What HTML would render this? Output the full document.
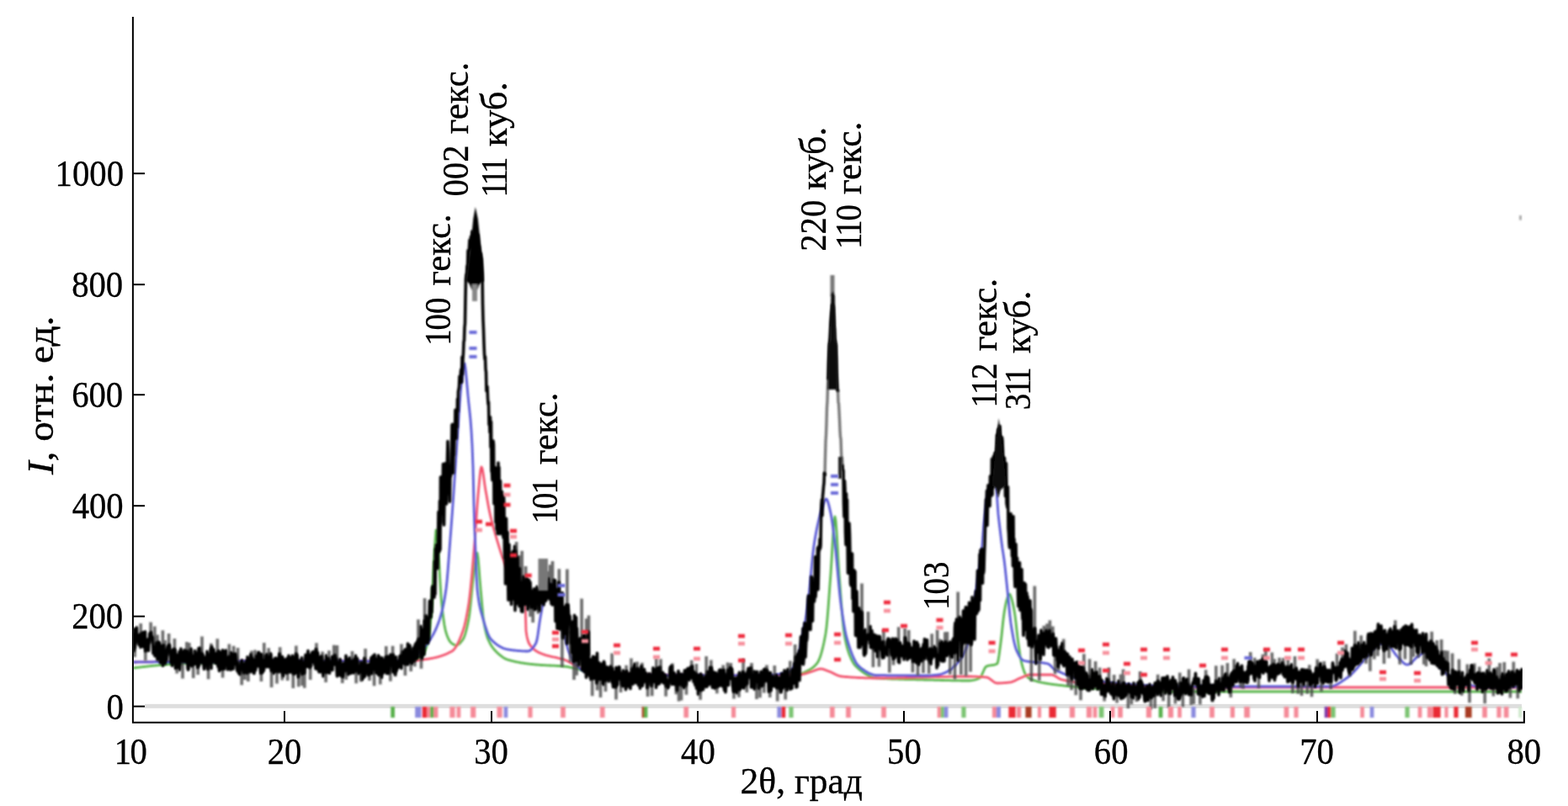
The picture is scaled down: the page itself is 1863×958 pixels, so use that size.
<!DOCTYPE html>
<html lang="ru"><head><meta charset="utf-8"><title>XRD</title>
<style>html,body{margin:0;padding:0;background:#fff;overflow:hidden}svg{display:block}</style></head>
<body><svg width="1863" height="958" viewBox="0 0 1863 958">
<rect width="1863" height="958" fill="#fff"/>
<rect x="172" y="836.8" width="1636" height="5" fill="#dedede"/>
<defs><filter id="soft" x="0" y="0" width="1863" height="958" filterUnits="userSpaceOnUse"><feGaussianBlur stdDeviation="1.2"/></filter><filter id="soft2" x="0" y="0" width="1863" height="958" filterUnits="userSpaceOnUse"><feGaussianBlur stdDeviation="0.9"/></filter><clipPath id="plot"><rect x="159" y="20" width="1650" height="837"/></clipPath></defs>
<g filter="url(#soft2)" clip-path="url(#plot)">
<path d="M158.0 794.0 159.0 793.9 160.0 793.8 161.0 793.6 162.0 793.5 163.0 793.4 164.0 793.3 165.0 793.2 166.0 793.1 167.0 793.0 168.0 792.8 169.0 792.7 170.0 792.6 171.0 792.5 172.0 792.4 173.0 792.3 174.0 792.2 175.0 792.1 176.0 791.9 177.0 791.8 178.0 791.7 179.0 791.6 180.0 791.5 181.0 791.4 182.0 791.3 183.0 791.2 184.0 791.1 185.0 791.0 186.0 790.9 187.0 790.8 188.0 790.7 189.0 790.6 190.0 790.5 191.0 790.4 192.0 790.3 193.0 790.2 194.0 790.2 195.0 790.1 196.0 790.0 197.0 789.9 198.0 789.8 199.0 789.7 200.0 789.6 201.0 789.6 202.0 789.5 203.0 789.4 204.0 789.3 205.0 789.3 206.0 789.2 207.0 789.1 208.0 789.0 209.0 789.0 210.0 788.9 211.0 788.8 212.0 788.8 213.0 788.7 214.0 788.7 215.0 788.6 216.0 788.6 217.0 788.5 218.0 788.4 219.0 788.4 220.0 788.4 221.0 788.3 222.0 788.3 223.0 788.2 224.0 788.2 225.0 788.1 226.0 788.1 227.0 788.1 228.0 788.1 229.0 788.0 230.0 788.0 231.0 788.0 232.0 788.0 233.0 787.9 234.0 787.9 235.0 787.9 236.0 787.9 237.0 787.8 238.0 787.8 239.0 787.8 240.0 787.8 241.0 787.8 242.0 787.7 243.0 787.7 244.0 787.7 245.0 787.7 246.0 787.7 247.0 787.6 248.0 787.6 249.0 787.6 250.0 787.6 251.0 787.6 252.0 787.6 253.0 787.5 254.0 787.5 255.0 787.5 256.0 787.5 257.0 787.5 258.0 787.5 259.0 787.4 260.0 787.4 261.0 787.4 262.0 787.4 263.0 787.4 264.0 787.4 265.0 787.4 266.0 787.3 267.0 787.3 268.0 787.3 269.0 787.3 270.0 787.3 271.0 787.3 272.0 787.3 273.0 787.3 274.0 787.3 275.0 787.2 276.0 787.2 277.0 787.2 278.0 787.2 279.0 787.2 280.0 787.2 281.0 787.2 282.0 787.2 283.0 787.2 284.0 787.1 285.0 787.1 286.0 787.1 287.0 787.1 288.0 787.1 289.0 787.1 290.0 787.1 291.0 787.1 292.0 787.1 293.0 787.1 294.0 787.1 295.0 787.0 296.0 787.0 297.0 787.0 298.0 787.0 299.0 787.0 300.0 787.0 301.0 787.0 302.0 787.0 303.0 787.0 304.0 787.0 305.0 787.0 306.0 787.0 307.0 786.9 308.0 786.9 309.0 786.9 310.0 786.9 311.0 786.9 312.0 786.9 313.0 786.9 314.0 786.9 315.0 786.9 316.0 786.9 317.0 786.9 318.0 786.9 319.0 786.9 320.0 786.9 321.0 786.9 322.0 786.8 323.0 786.8 324.0 786.8 325.0 786.8 326.0 786.8 327.0 786.8 328.0 786.8 329.0 786.8 330.0 786.8 331.0 786.8 332.0 786.8 333.0 786.8 334.0 786.8 335.0 786.8 336.0 786.8 337.0 786.8 338.0 786.8 339.0 786.8 340.0 786.8 341.0 786.8 342.0 786.8 343.0 786.8 344.0 786.8 345.0 786.8 346.0 786.7 347.0 786.7 348.0 786.7 349.0 786.7 350.0 786.7 351.0 786.7 352.0 786.7 353.0 786.7 354.0 786.7 355.0 786.7 356.0 786.7 357.0 786.7 358.0 786.7 359.0 786.7 360.0 786.7 361.0 786.7 362.0 786.7 363.0 786.7 364.0 786.7 365.0 786.7 366.0 786.7 367.0 786.7 368.0 786.7 369.0 786.7 370.0 786.7 371.0 786.7 372.0 786.7 373.0 786.7 374.0 786.7 375.0 786.7 376.0 786.7 377.0 786.7 378.0 786.7 379.0 786.7 380.0 786.7 381.0 786.7 382.0 786.7 383.0 786.7 384.0 786.7 385.0 786.7 386.0 786.6 387.0 786.6 388.0 786.6 389.0 786.6 390.0 786.6 391.0 786.6 392.0 786.6 393.0 786.6 394.0 786.6 395.0 786.6 396.0 786.6 397.0 786.6 398.0 786.6 399.0 786.6 400.0 786.6 401.0 786.6 402.0 786.6 403.0 786.6 404.0 786.6 405.0 786.6 406.0 786.6 407.0 786.6 408.0 786.6 409.0 786.6 410.0 786.6 411.0 786.6 412.0 786.6 413.0 786.6 414.0 786.6 415.0 786.6 416.0 786.6 417.0 786.5 418.0 786.5 419.0 786.5 420.0 786.5 421.0 786.5 422.0 786.5 423.0 786.5 424.0 786.5 425.0 786.5 426.0 786.5 427.0 786.5 428.0 786.5 429.0 786.5 430.0 786.5 431.0 786.5 432.0 786.5 433.0 786.5 434.0 786.5 435.0 786.5 436.0 786.4 437.0 786.4 438.0 786.4 439.0 786.4 440.0 786.4 441.0 786.4 442.0 786.4 443.0 786.4 444.0 786.4 445.0 786.4 446.0 786.4 447.0 786.4 448.0 786.4 449.0 786.4 450.0 786.3 451.0 786.3 452.0 786.3 453.0 786.3 454.0 786.3 455.0 786.3 456.0 786.3 457.0 786.3 458.0 786.3 459.0 786.3 460.0 786.2 461.0 786.2 462.0 786.2 463.0 786.2 464.0 786.2 465.0 786.2 466.0 786.2 467.0 786.2 468.0 786.2 469.0 786.1 470.0 786.1 471.0 786.1 472.0 786.1 473.0 786.1 474.0 786.1 475.0 786.1 476.0 786.1 477.0 786.0 478.0 786.0 479.0 786.0 480.0 786.0 481.0 786.0 482.0 785.9 483.0 785.8 484.0 785.7 485.0 785.6 486.0 785.4 487.0 785.2 488.0 785.0 489.0 784.7 490.0 784.4 491.0 784.1 492.0 783.7 493.0 783.4 494.0 783.0 495.0 782.5 496.0 782.1 497.0 781.6 498.0 781.1 499.0 780.6 500.0 780.0 501.0 779.3 502.0 778.2 503.0 776.9 504.0 775.2 505.0 773.2 506.0 770.8 507.0 768.1 508.0 765.0 509.0 760.3 510.0 753.0 511.0 743.5 512.0 732.4 513.0 720.0 514.0 702.2 515.0 679.6 516.0 660.0 517.0 643.2 518.0 630.1 519.0 630.2 520.0 643.8 521.0 660.0 522.0 675.4 523.0 692.3 524.0 708.1 525.0 720.0 526.0 728.7 527.0 736.3 528.0 742.9 529.0 748.1 530.0 752.0 531.0 754.9 532.0 757.5 533.0 759.7 534.0 761.6 535.0 763.0 536.0 764.0 537.0 764.8 538.0 765.5 539.0 766.1 540.0 766.6 541.0 766.9 542.0 767.0 543.0 766.9 544.0 766.4 545.0 765.8 546.0 764.9 547.0 763.9 548.0 762.7 549.0 761.4 550.0 760.0 551.0 758.2 552.0 755.7 553.0 752.6 554.0 748.9 555.0 744.7 556.0 740.1 557.0 735.0 558.0 728.2 559.0 719.1 560.0 708.9 561.0 698.8 562.0 690.0 563.0 681.4 564.0 672.3 565.0 664.2 566.0 658.6 567.0 657.2 568.0 663.0 569.0 674.5 570.0 688.0 571.0 700.0 572.0 710.9 573.0 722.2 574.0 732.4 575.0 740.0 576.0 745.4 577.0 750.1 578.0 754.1 579.0 757.4 580.0 760.0 581.0 762.2 582.0 764.2 583.0 766.0 584.0 767.7 585.0 769.2 586.0 770.5 587.0 771.8 588.0 772.9 589.0 774.0 590.0 775.0 591.0 776.0 592.0 776.9 593.0 777.8 594.0 778.6 595.0 779.4 596.0 780.2 597.0 780.9 598.0 781.6 599.0 782.2 600.0 782.7 601.0 783.2 602.0 783.7 603.0 784.0 604.0 784.3 605.0 784.6 606.0 784.9 607.0 785.2 608.0 785.4 609.0 785.7 610.0 785.9 611.0 786.2 612.0 786.4 613.0 786.6 614.0 786.8 615.0 787.0 616.0 787.2 617.0 787.4 618.0 787.6 619.0 787.8 620.0 787.9 621.0 788.1 622.0 788.2 623.0 788.4 624.0 788.5 625.0 788.7 626.0 788.8 627.0 788.9 628.0 789.1 629.0 789.2 630.0 789.3 631.0 789.4 632.0 789.5 633.0 789.6 634.0 789.7 635.0 789.8 636.0 789.9 637.0 790.0 638.0 790.1 639.0 790.2 640.0 790.2 641.0 790.3 642.0 790.4 643.0 790.5 644.0 790.5 645.0 790.6 646.0 790.6 647.0 790.7 648.0 790.7 649.0 790.8 650.0 790.8 651.0 790.9 652.0 790.9 653.0 791.0 654.0 791.0 655.0 791.1 656.0 791.1 657.0 791.1 658.0 791.2 659.0 791.2 660.0 791.3 661.0 791.3 662.0 791.4 663.0 791.5 664.0 791.5 665.0 791.6 666.0 791.7 667.0 791.7 668.0 791.8 669.0 791.9 670.0 792.0 671.0 792.1 672.0 792.2 673.0 792.4 674.0 792.5 675.0 792.7 676.0 792.9 677.0 793.1 678.0 793.3 679.0 793.5 680.0 793.7 681.0 794.0 682.0 794.2 683.0 794.5 684.0 794.7 685.0 795.0 686.0 795.2 687.0 795.5 688.0 795.7 689.0 795.9 690.0 796.2 691.0 796.4 692.0 796.6 693.0 796.9 694.0 797.1 695.0 797.3 696.0 797.4 697.0 797.6 698.0 797.8 699.0 797.9 700.0 798.0 701.0 798.1 702.0 798.2 703.0 798.3 704.0 798.4 705.0 798.5 706.0 798.6 707.0 798.7 708.0 798.8 709.0 798.9 710.0 799.0 711.0 799.1 712.0 799.2 713.0 799.3 714.0 799.4 715.0 799.5 716.0 799.6 717.0 799.7 718.0 799.7 719.0 799.8 720.0 799.9 721.0 800.0 722.0 800.1 723.0 800.2 724.0 800.2 725.0 800.3 726.0 800.4 727.0 800.5 728.0 800.5 729.0 800.6 730.0 800.7 731.0 800.8 732.0 800.8 733.0 800.9 734.0 801.0 735.0 801.0 736.0 801.1 737.0 801.1 738.0 801.2 739.0 801.3 740.0 801.3 741.0 801.4 742.0 801.4 743.0 801.5 744.0 801.5 745.0 801.6 746.0 801.6 747.0 801.6 748.0 801.7 749.0 801.7 750.0 801.8 751.0 801.8 752.0 801.8 753.0 801.8 754.0 801.9 755.0 801.9 756.0 801.9 757.0 801.9 758.0 802.0 759.0 802.0 760.0 802.0 761.0 802.0 762.0 802.0 763.0 802.0 764.0 802.1 765.0 802.1 766.0 802.1 767.0 802.1 768.0 802.1 769.0 802.1 770.0 802.1 771.0 802.2 772.0 802.2 773.0 802.2 774.0 802.2 775.0 802.2 776.0 802.2 777.0 802.2 778.0 802.2 779.0 802.3 780.0 802.3 781.0 802.3 782.0 802.3 783.0 802.3 784.0 802.3 785.0 802.3 786.0 802.3 787.0 802.4 788.0 802.4 789.0 802.4 790.0 802.4 791.0 802.4 792.0 802.4 793.0 802.4 794.0 802.4 795.0 802.4 796.0 802.5 797.0 802.5 798.0 802.5 799.0 802.5 800.0 802.5 801.0 802.5 802.0 802.5 803.0 802.5 804.0 802.5 805.0 802.5 806.0 802.6 807.0 802.6 808.0 802.6 809.0 802.6 810.0 802.6 811.0 802.6 812.0 802.6 813.0 802.6 814.0 802.6 815.0 802.6 816.0 802.6 817.0 802.7 818.0 802.7 819.0 802.7 820.0 802.7 821.0 802.7 822.0 802.7 823.0 802.7 824.0 802.7 825.0 802.7 826.0 802.7 827.0 802.7 828.0 802.7 829.0 802.7 830.0 802.8 831.0 802.8 832.0 802.8 833.0 802.8 834.0 802.8 835.0 802.8 836.0 802.8 837.0 802.8 838.0 802.8 839.0 802.8 840.0 802.8 841.0 802.8 842.0 802.8 843.0 802.8 844.0 802.8 845.0 802.8 846.0 802.9 847.0 802.9 848.0 802.9 849.0 802.9 850.0 802.9 851.0 802.9 852.0 802.9 853.0 802.9 854.0 802.9 855.0 802.9 856.0 802.9 857.0 802.9 858.0 802.9 859.0 802.9 860.0 802.9 861.0 802.9 862.0 802.9 863.0 802.9 864.0 802.9 865.0 802.9 866.0 802.9 867.0 802.9 868.0 802.9 869.0 803.0 870.0 803.0 871.0 803.0 872.0 803.0 873.0 803.0 874.0 803.0 875.0 803.0 876.0 803.0 877.0 803.0 878.0 803.0 879.0 803.0 880.0 803.0 881.0 803.0 882.0 803.0 883.0 803.0 884.0 803.0 885.0 803.0 886.0 803.0 887.0 803.0 888.0 803.0 889.0 803.0 890.0 803.0 891.0 803.0 892.0 803.0 893.0 803.0 894.0 803.0 895.0 803.0 896.0 803.0 897.0 803.0 898.0 803.0 899.0 803.0 900.0 803.0 901.0 803.0 902.0 803.0 903.0 803.0 904.0 803.0 905.0 803.0 906.0 803.0 907.0 803.0 908.0 803.0 909.0 803.0 910.0 803.0 911.0 803.0 912.0 802.9 913.0 802.9 914.0 802.9 915.0 802.9 916.0 802.9 917.0 802.9 918.0 802.9 919.0 802.9 920.0 802.8 921.0 802.8 922.0 802.8 923.0 802.8 924.0 802.8 925.0 802.7 926.0 802.7 927.0 802.7 928.0 802.7 929.0 802.6 930.0 802.6 931.0 802.6 932.0 802.6 933.0 802.5 934.0 802.5 935.0 802.5 936.0 802.4 937.0 802.4 938.0 802.3 939.0 802.3 940.0 802.3 941.0 802.2 942.0 802.2 943.0 802.1 944.0 802.1 945.0 802.0 946.0 802.0 947.0 801.9 948.0 801.8 949.0 801.6 950.0 801.3 951.0 801.0 952.0 800.7 953.0 800.3 954.0 799.9 955.0 799.4 956.0 799.0 957.0 798.5 958.0 798.0 959.0 797.5 960.0 797.0 961.0 796.5 962.0 795.9 963.0 795.4 964.0 794.7 965.0 794.0 966.0 793.3 967.0 792.4 968.0 791.5 969.0 790.4 970.0 789.3 971.0 788.0 972.0 786.4 973.0 784.5 974.0 782.0 975.0 779.2 976.0 775.9 977.0 772.2 978.0 768.0 979.0 763.5 980.0 758.4 981.0 753.0 982.0 745.6 983.0 735.2 984.0 722.8 985.0 709.2 986.0 695.3 987.0 682.0 988.0 666.8 989.0 648.9 990.0 631.8 991.0 619.0 992.0 614.0 993.0 619.0 994.0 631.8 995.0 648.9 996.0 666.8 997.0 682.0 998.0 695.2 999.0 709.1 1000.0 722.6 1001.0 735.0 1002.0 745.4 1003.0 753.0 1004.0 758.5 1005.0 763.4 1006.0 767.7 1007.0 771.4 1008.0 774.6 1009.0 777.5 1010.0 780.0 1011.0 782.3 1012.0 784.4 1013.0 786.4 1014.0 788.1 1015.0 789.6 1016.0 790.9 1017.0 792.0 1018.0 792.9 1019.0 793.8 1020.0 794.7 1021.0 795.6 1022.0 796.4 1023.0 797.2 1024.0 798.0 1025.0 798.7 1026.0 799.4 1027.0 800.1 1028.0 800.8 1029.0 801.4 1030.0 802.0 1031.0 802.5 1032.0 803.0 1033.0 803.5 1034.0 804.0 1035.0 804.4 1036.0 804.7 1037.0 805.1 1038.0 805.3 1039.0 805.6 1040.0 805.8 1041.0 805.9 1042.0 806.0 1043.0 806.1 1044.0 806.1 1045.0 806.2 1046.0 806.3 1047.0 806.3 1048.0 806.4 1049.0 806.5 1050.0 806.5 1051.0 806.6 1052.0 806.6 1053.0 806.7 1054.0 806.7 1055.0 806.8 1056.0 806.8 1057.0 806.9 1058.0 806.9 1059.0 807.0 1060.0 807.0 1061.0 807.0 1062.0 807.1 1063.0 807.1 1064.0 807.1 1065.0 807.2 1066.0 807.2 1067.0 807.2 1068.0 807.3 1069.0 807.3 1070.0 807.3 1071.0 807.4 1072.0 807.4 1073.0 807.4 1074.0 807.4 1075.0 807.5 1076.0 807.5 1077.0 807.5 1078.0 807.5 1079.0 807.5 1080.0 807.6 1081.0 807.6 1082.0 807.6 1083.0 807.6 1084.0 807.7 1085.0 807.7 1086.0 807.7 1087.0 807.7 1088.0 807.7 1089.0 807.8 1090.0 807.8 1091.0 807.8 1092.0 807.8 1093.0 807.8 1094.0 807.9 1095.0 807.9 1096.0 807.9 1097.0 807.9 1098.0 808.0 1099.0 808.0 1100.0 808.0 1101.0 808.0 1102.0 808.1 1103.0 808.1 1104.0 808.1 1105.0 808.1 1106.0 808.2 1107.0 808.2 1108.0 808.2 1109.0 808.2 1110.0 808.3 1111.0 808.3 1112.0 808.3 1113.0 808.3 1114.0 808.4 1115.0 808.4 1116.0 808.4 1117.0 808.4 1118.0 808.5 1119.0 808.5 1120.0 808.5 1121.0 808.5 1122.0 808.6 1123.0 808.6 1124.0 808.6 1125.0 808.6 1126.0 808.7 1127.0 808.7 1128.0 808.7 1129.0 808.7 1130.0 808.8 1131.0 808.8 1132.0 808.8 1133.0 808.8 1134.0 808.8 1135.0 808.9 1136.0 808.9 1137.0 808.9 1138.0 808.9 1139.0 808.9 1140.0 808.9 1141.0 808.9 1142.0 809.0 1143.0 809.0 1144.0 809.0 1145.0 809.0 1146.0 809.0 1147.0 809.0 1148.0 809.0 1149.0 809.0 1150.0 809.0 1151.0 809.0 1152.0 809.0 1153.0 808.9 1154.0 808.8 1155.0 808.7 1156.0 808.5 1157.0 808.3 1158.0 808.0 1159.0 807.8 1160.0 807.5 1161.0 807.1 1162.0 806.7 1163.0 806.3 1164.0 805.9 1165.0 804.9 1166.0 803.2 1167.0 801.1 1168.0 798.8 1169.0 796.5 1170.0 794.4 1171.0 792.9 1172.0 792.0 1173.0 791.6 1174.0 791.3 1175.0 791.1 1176.0 790.9 1177.0 790.8 1178.0 790.7 1179.0 790.6 1180.0 790.4 1181.0 790.3 1182.0 790.0 1183.0 789.7 1184.0 789.3 1185.0 788.6 1186.0 785.1 1187.0 778.9 1188.0 771.5 1189.0 764.0 1190.0 755.8 1191.0 746.1 1192.0 736.6 1193.0 729.0 1194.0 723.1 1195.0 717.8 1196.0 713.6 1197.0 710.5 1198.0 707.7 1199.0 706.1 1200.0 706.6 1201.0 709.0 1202.0 712.0 1203.0 715.6 1204.0 720.1 1205.0 725.5 1206.0 731.6 1207.0 739.6 1208.0 748.8 1209.0 757.8 1210.0 765.4 1211.0 772.3 1212.0 778.9 1213.0 784.6 1214.0 789.0 1215.0 792.5 1216.0 795.7 1217.0 798.6 1218.0 800.9 1219.0 802.8 1220.0 804.0 1221.0 804.8 1222.0 805.6 1223.0 806.2 1224.0 806.8 1225.0 807.3 1226.0 807.8 1227.0 808.2 1228.0 808.6 1229.0 808.9 1230.0 809.2 1231.0 809.5 1232.0 809.8 1233.0 810.1 1234.0 810.3 1235.0 810.6 1236.0 810.8 1237.0 811.0 1238.0 811.3 1239.0 811.5 1240.0 811.7 1241.0 811.9 1242.0 812.0 1243.0 812.2 1244.0 812.4 1245.0 812.5 1246.0 812.7 1247.0 812.8 1248.0 813.0 1249.0 813.1 1250.0 813.3 1251.0 813.4 1252.0 813.5 1253.0 813.7 1254.0 813.8 1255.0 813.9 1256.0 814.0 1257.0 814.2 1258.0 814.3 1259.0 814.4 1260.0 814.5 1261.0 814.6 1262.0 814.7 1263.0 814.9 1264.0 815.0 1265.0 815.1 1266.0 815.2 1267.0 815.3 1268.0 815.4 1269.0 815.5 1270.0 815.6 1271.0 815.7 1272.0 815.8 1273.0 815.9 1274.0 816.0 1275.0 816.1 1276.0 816.2 1277.0 816.3 1278.0 816.4 1279.0 816.5 1280.0 816.5 1281.0 816.6 1282.0 816.7 1283.0 816.8 1284.0 816.9 1285.0 817.0 1286.0 817.0 1287.0 817.1 1288.0 817.2 1289.0 817.3 1290.0 817.3 1291.0 817.4 1292.0 817.5 1293.0 817.6 1294.0 817.6 1295.0 817.7 1296.0 817.8 1297.0 817.8 1298.0 817.9 1299.0 817.9 1300.0 818.0 1301.0 818.1 1302.0 818.1 1303.0 818.2 1304.0 818.2 1305.0 818.3 1306.0 818.4 1307.0 818.4 1308.0 818.5 1309.0 818.5 1310.0 818.6 1311.0 818.6 1312.0 818.7 1313.0 818.8 1314.0 818.8 1315.0 818.9 1316.0 818.9 1317.0 819.0 1318.0 819.0 1319.0 819.1 1320.0 819.2 1321.0 819.2 1322.0 819.3 1323.0 819.3 1324.0 819.4 1325.0 819.4 1326.0 819.5 1327.0 819.6 1328.0 819.6 1329.0 819.7 1330.0 819.7 1331.0 819.8 1332.0 819.8 1333.0 819.9 1334.0 819.9 1335.0 820.0 1336.0 820.0 1337.0 820.1 1338.0 820.1 1339.0 820.2 1340.0 820.2 1341.0 820.3 1342.0 820.3 1343.0 820.4 1344.0 820.4 1345.0 820.5 1346.0 820.5 1347.0 820.6 1348.0 820.6 1349.0 820.7 1350.0 820.7 1351.0 820.8 1352.0 820.8 1353.0 820.9 1354.0 820.9 1355.0 820.9 1356.0 821.0 1357.0 821.0 1358.0 821.1 1359.0 821.1 1360.0 821.2 1361.0 821.2 1362.0 821.2 1363.0 821.3 1364.0 821.3 1365.0 821.3 1366.0 821.4 1367.0 821.4 1368.0 821.4 1369.0 821.5 1370.0 821.5 1371.0 821.5 1372.0 821.6 1373.0 821.6 1374.0 821.6 1375.0 821.6 1376.0 821.7 1377.0 821.7 1378.0 821.7 1379.0 821.7 1380.0 821.8 1381.0 821.8 1382.0 821.8 1383.0 821.8 1384.0 821.9 1385.0 821.9 1386.0 821.9 1387.0 821.9 1388.0 821.9 1389.0 821.9 1390.0 821.9 1391.0 822.0 1392.0 822.0 1393.0 822.0 1394.0 822.0 1395.0 822.0 1396.0 822.0 1397.0 822.0 1398.0 822.0 1399.0 822.0 1400.0 822.0 1401.0 822.0 1402.0 822.0 1403.0 822.0 1404.0 822.0 1405.0 822.0 1406.0 822.0 1407.0 822.0 1408.0 822.0 1409.0 822.0 1410.0 822.0 1411.0 822.0 1412.0 822.0 1413.0 822.0 1414.0 822.0 1415.0 822.0 1416.0 822.0 1417.0 822.0 1418.0 822.0 1419.0 822.0 1420.0 822.0 1421.0 822.0 1422.0 822.0 1423.0 822.0 1424.0 822.0 1425.0 822.0 1426.0 822.0 1427.0 822.0 1428.0 822.0 1429.0 822.0 1430.0 822.0 1431.0 822.0 1432.0 822.0 1433.0 822.0 1434.0 822.0 1435.0 822.0 1436.0 822.0 1437.0 822.0 1438.0 822.0 1439.0 822.0 1440.0 822.0 1441.0 822.0 1442.0 822.0 1443.0 822.0 1444.0 822.0 1445.0 822.0 1446.0 822.0 1447.0 822.0 1448.0 822.0 1449.0 822.0 1450.0 822.0 1451.0 822.0 1452.0 822.0 1453.0 822.0 1454.0 822.0 1455.0 822.0 1456.0 822.0 1457.0 822.0 1458.0 822.0 1459.0 822.0 1460.0 822.0 1461.0 822.0 1462.0 822.0 1463.0 822.0 1464.0 822.0 1465.0 822.0 1466.0 822.0 1467.0 822.0 1468.0 822.0 1469.0 822.0 1470.0 822.0 1471.0 822.0 1472.0 822.0 1473.0 822.0 1474.0 822.0 1475.0 822.0 1476.0 822.0 1477.0 822.0 1478.0 822.0 1479.0 822.0 1480.0 822.0 1481.0 822.0 1482.0 822.0 1483.0 822.0 1484.0 822.0 1485.0 822.0 1486.0 822.0 1487.0 822.0 1488.0 822.0 1489.0 822.0 1490.0 822.0 1491.0 822.0 1492.0 822.0 1493.0 822.0 1494.0 822.0 1495.0 822.0 1496.0 822.0 1497.0 822.0 1498.0 822.0 1499.0 822.0 1500.0 822.0 1501.0 822.0 1502.0 822.0 1503.0 822.0 1504.0 822.0 1505.0 822.0 1506.0 822.0 1507.0 822.0 1508.0 822.0 1509.0 822.0 1510.0 822.0 1511.0 822.0 1512.0 822.0 1513.0 822.0 1514.0 822.0 1515.0 822.0 1516.0 822.0 1517.0 822.0 1518.0 822.0 1519.0 822.0 1520.0 822.0 1521.0 822.0 1522.0 822.0 1523.0 822.0 1524.0 822.0 1525.0 822.0 1526.0 822.0 1527.0 822.0 1528.0 822.0 1529.0 822.0 1530.0 822.0 1531.0 822.0 1532.0 822.0 1533.0 822.0 1534.0 822.0 1535.0 822.0 1536.0 822.0 1537.0 822.0 1538.0 822.0 1539.0 822.0 1540.0 822.0 1541.0 822.0 1542.0 822.0 1543.0 822.0 1544.0 822.0 1545.0 822.0 1546.0 822.0 1547.0 822.0 1548.0 822.0 1549.0 822.0 1550.0 822.0 1551.0 822.0 1552.0 822.0 1553.0 822.0 1554.0 822.0 1555.0 822.0 1556.0 822.0 1557.0 822.0 1558.0 822.0 1559.0 822.0 1560.0 822.0 1561.0 822.0 1562.0 822.0 1563.0 822.0 1564.0 822.0 1565.0 822.0 1566.0 822.0 1567.0 822.0 1568.0 822.0 1569.0 822.0 1570.0 822.0 1571.0 822.0 1572.0 822.0 1573.0 822.0 1574.0 822.0 1575.0 822.0 1576.0 822.0 1577.0 822.0 1578.0 822.0 1579.0 822.0 1580.0 822.0 1581.0 822.0 1582.0 822.0 1583.0 822.0 1584.0 822.0 1585.0 822.0 1586.0 822.0 1587.0 822.0 1588.0 822.0 1589.0 822.0 1590.0 822.0 1591.0 822.0 1592.0 822.0 1593.0 822.0 1594.0 822.0 1595.0 822.0 1596.0 822.0 1597.0 822.0 1598.0 822.0 1599.0 822.0 1600.0 822.0 1601.0 822.0 1602.0 822.0 1603.0 822.0 1604.0 822.0 1605.0 822.0 1606.0 822.0 1607.0 822.0 1608.0 822.0 1609.0 822.0 1610.0 822.0 1611.0 822.0 1612.0 822.0 1613.0 822.0 1614.0 822.0 1615.0 822.0 1616.0 822.0 1617.0 822.0 1618.0 822.0 1619.0 822.0 1620.0 822.0 1621.0 822.0 1622.0 822.0 1623.0 822.0 1624.0 822.0 1625.0 822.0 1626.0 822.0 1627.0 822.0 1628.0 822.0 1629.0 822.0 1630.0 822.0 1631.0 822.0 1632.0 822.0 1633.0 822.0 1634.0 822.0 1635.0 822.0 1636.0 822.0 1637.0 822.0 1638.0 822.0 1639.0 822.0 1640.0 822.0 1641.0 822.0 1642.0 822.0 1643.0 822.0 1644.0 822.0 1645.0 822.0 1646.0 822.0 1647.0 822.0 1648.0 822.0 1649.0 822.0 1650.0 822.0 1651.0 822.0 1652.0 822.0 1653.0 822.0 1654.0 822.0 1655.0 822.0 1656.0 822.0 1657.0 822.0 1658.0 822.0 1659.0 822.0 1660.0 822.0 1661.0 822.0 1662.0 822.0 1663.0 822.0 1664.0 822.0 1665.0 822.0 1666.0 822.0 1667.0 822.0 1668.0 822.0 1669.0 822.0 1670.0 822.0 1671.0 822.0 1672.0 822.0 1673.0 822.0 1674.0 822.0 1675.0 822.0 1676.0 822.0 1677.0 822.0 1678.0 822.0 1679.0 822.0 1680.0 822.0 1681.0 822.0 1682.0 822.0 1683.0 822.0 1684.0 822.0 1685.0 822.0 1686.0 822.0 1687.0 822.0 1688.0 822.0 1689.0 822.0 1690.0 822.0 1691.0 822.0 1692.0 822.0 1693.0 822.0 1694.0 822.0 1695.0 822.0 1696.0 822.0 1697.0 822.0 1698.0 822.0 1699.0 822.0 1700.0 822.0 1701.0 822.0 1702.0 822.0 1703.0 822.0 1704.0 822.0 1705.0 822.0 1706.0 822.0 1707.0 822.0 1708.0 822.0 1709.0 822.0 1710.0 822.0 1711.0 822.0 1712.0 822.0 1713.0 822.0 1714.0 822.0 1715.0 822.0 1716.0 822.0 1717.0 822.0 1718.0 822.0 1719.0 822.0 1720.0 822.0 1721.0 822.0 1722.0 822.0 1723.0 822.0 1724.0 822.0 1725.0 822.0 1726.0 822.0 1727.0 822.0 1728.0 822.0 1729.0 822.0 1730.0 822.0 1731.0 822.0 1732.0 822.0 1733.0 822.0 1734.0 822.0 1735.0 822.0 1736.0 822.0 1737.0 822.0 1738.0 822.0 1739.0 822.0 1740.0 822.0 1741.0 822.0 1742.0 822.0 1743.0 822.0 1744.0 822.0 1745.0 822.0 1746.0 822.0 1747.0 822.0 1748.0 822.0 1749.0 822.0 1750.0 822.0 1751.0 822.0 1752.0 822.0 1753.0 822.0 1754.0 822.0 1755.0 822.0 1756.0 822.0 1757.0 822.0 1758.0 822.0 1759.0 822.0 1760.0 822.0 1761.0 822.0 1762.0 822.0 1763.0 822.0 1764.0 822.0 1765.0 822.0 1766.0 822.0 1767.0 822.0 1768.0 822.0 1769.0 822.0 1770.0 822.0 1771.0 822.0 1772.0 822.0 1773.0 822.0 1774.0 822.0 1775.0 822.0 1776.0 822.0 1777.0 822.0 1778.0 822.0 1779.0 822.0 1780.0 822.0 1781.0 822.0 1782.0 822.0 1783.0 822.0 1784.0 822.0 1785.0 822.0 1786.0 822.0 1787.0 822.0 1788.0 822.0 1789.0 822.0 1790.0 822.0 1791.0 822.0 1792.0 822.0 1793.0 822.0 1794.0 822.0 1795.0 822.0 1796.0 822.0 1797.0 822.0 1798.0 822.0 1799.0 822.0 1800.0 822.0 1801.0 822.0 1802.0 822.0 1803.0 822.0 1804.0 822.0 1805.0 822.0 1806.0 822.0 1807.0 822.0 1808.0 822.0" fill="none" stroke="#56b44a" stroke-width="2.8" stroke-linejoin="round" opacity="1"/>
<path d="M158.0 787.0 159.0 787.0 160.0 787.0 161.0 787.0 162.0 787.0 163.0 786.9 164.0 786.9 165.0 786.9 166.0 786.9 167.0 786.9 168.0 786.9 169.0 786.9 170.0 786.9 171.0 786.9 172.0 786.9 173.0 786.8 174.0 786.8 175.0 786.8 176.0 786.8 177.0 786.8 178.0 786.8 179.0 786.8 180.0 786.8 181.0 786.8 182.0 786.8 183.0 786.7 184.0 786.7 185.0 786.7 186.0 786.7 187.0 786.7 188.0 786.7 189.0 786.7 190.0 786.7 191.0 786.7 192.0 786.7 193.0 786.6 194.0 786.6 195.0 786.6 196.0 786.6 197.0 786.6 198.0 786.6 199.0 786.6 200.0 786.6 201.0 786.6 202.0 786.6 203.0 786.5 204.0 786.5 205.0 786.5 206.0 786.5 207.0 786.5 208.0 786.5 209.0 786.5 210.0 786.5 211.0 786.5 212.0 786.5 213.0 786.5 214.0 786.4 215.0 786.4 216.0 786.4 217.0 786.4 218.0 786.4 219.0 786.4 220.0 786.4 221.0 786.4 222.0 786.4 223.0 786.4 224.0 786.4 225.0 786.4 226.0 786.3 227.0 786.3 228.0 786.3 229.0 786.3 230.0 786.3 231.0 786.3 232.0 786.3 233.0 786.3 234.0 786.3 235.0 786.3 236.0 786.3 237.0 786.3 238.0 786.3 239.0 786.2 240.0 786.2 241.0 786.2 242.0 786.2 243.0 786.2 244.0 786.2 245.0 786.2 246.0 786.2 247.0 786.2 248.0 786.2 249.0 786.2 250.0 786.2 251.0 786.2 252.0 786.2 253.0 786.2 254.0 786.1 255.0 786.1 256.0 786.1 257.0 786.1 258.0 786.1 259.0 786.1 260.0 786.1 261.0 786.1 262.0 786.1 263.0 786.1 264.0 786.1 265.0 786.1 266.0 786.1 267.0 786.1 268.0 786.1 269.0 786.1 270.0 786.1 271.0 786.1 272.0 786.1 273.0 786.1 274.0 786.0 275.0 786.0 276.0 786.0 277.0 786.0 278.0 786.0 279.0 786.0 280.0 786.0 281.0 786.0 282.0 786.0 283.0 786.0 284.0 786.0 285.0 786.0 286.0 786.0 287.0 786.0 288.0 786.0 289.0 786.0 290.0 786.0 291.0 786.0 292.0 786.0 293.0 786.0 294.0 786.0 295.0 786.0 296.0 786.0 297.0 786.0 298.0 786.0 299.0 786.0 300.0 786.0 301.0 786.0 302.0 786.0 303.0 786.0 304.0 786.0 305.0 786.0 306.0 786.0 307.0 786.0 308.0 786.0 309.0 786.0 310.0 786.0 311.0 786.0 312.0 786.0 313.0 786.0 314.0 786.0 315.0 786.0 316.0 786.0 317.0 786.0 318.0 786.0 319.0 786.0 320.0 786.0 321.0 786.0 322.0 786.0 323.0 786.0 324.0 786.0 325.0 786.0 326.0 786.0 327.0 786.0 328.0 786.0 329.0 786.0 330.0 786.0 331.0 786.0 332.0 786.0 333.0 786.0 334.0 786.0 335.0 786.0 336.0 786.0 337.0 786.0 338.0 786.0 339.0 786.0 340.0 786.0 341.0 786.0 342.0 786.0 343.0 786.0 344.0 786.0 345.0 786.0 346.0 786.0 347.0 786.0 348.0 786.0 349.0 786.0 350.0 786.0 351.0 786.0 352.0 786.0 353.0 786.0 354.0 786.0 355.0 786.0 356.0 786.0 357.0 786.0 358.0 786.0 359.0 786.0 360.0 786.0 361.0 786.0 362.0 786.0 363.0 786.0 364.0 786.0 365.0 786.0 366.0 786.0 367.0 786.0 368.0 786.0 369.0 786.0 370.0 786.0 371.0 786.0 372.0 786.0 373.0 786.0 374.0 786.0 375.0 786.0 376.0 786.0 377.0 786.0 378.0 786.0 379.0 786.0 380.0 786.0 381.0 786.0 382.0 786.0 383.0 786.0 384.0 786.0 385.0 786.0 386.0 786.0 387.0 786.0 388.0 786.0 389.0 786.0 390.0 786.0 391.0 786.0 392.0 786.0 393.0 786.0 394.0 786.0 395.0 786.0 396.0 786.0 397.0 786.0 398.0 786.0 399.0 786.0 400.0 786.0 401.0 786.0 402.0 786.0 403.0 786.0 404.0 786.0 405.0 786.0 406.0 786.0 407.0 786.0 408.0 786.0 409.0 786.0 410.0 786.0 411.0 786.0 412.0 786.0 413.0 786.0 414.0 786.0 415.0 786.0 416.0 786.0 417.0 786.0 418.0 786.0 419.0 786.0 420.0 786.0 421.0 786.0 422.0 786.0 423.0 786.0 424.0 786.0 425.0 786.0 426.0 786.0 427.0 786.0 428.0 786.0 429.0 786.0 430.0 786.0 431.0 786.0 432.0 786.0 433.0 786.0 434.0 786.0 435.0 786.0 436.0 786.0 437.0 786.0 438.0 786.0 439.0 786.0 440.0 786.0 441.0 786.0 442.0 786.0 443.0 786.0 444.0 786.0 445.0 786.0 446.0 786.0 447.0 786.0 448.0 786.0 449.0 786.0 450.0 786.0 451.0 786.0 452.0 786.0 453.0 786.0 454.0 786.0 455.0 786.0 456.0 786.0 457.0 786.0 458.0 786.0 459.0 786.0 460.0 786.0 461.0 786.0 462.0 786.0 463.0 786.0 464.0 786.0 465.0 786.0 466.0 786.0 467.0 786.0 468.0 786.0 469.0 786.0 470.0 786.0 471.0 786.0 472.0 786.0 473.0 786.0 474.0 786.0 475.0 786.0 476.0 786.0 477.0 786.0 478.0 786.0 479.0 786.0 480.0 786.0 481.0 786.0 482.0 786.0 483.0 786.0 484.0 785.9 485.0 785.9 486.0 785.8 487.0 785.7 488.0 785.7 489.0 785.6 490.0 785.5 491.0 785.4 492.0 785.3 493.0 785.2 494.0 785.1 495.0 785.0 496.0 784.9 497.0 784.8 498.0 784.6 499.0 784.5 500.0 784.4 501.0 784.3 502.0 784.1 503.0 784.0 504.0 783.9 505.0 783.7 506.0 783.6 507.0 783.4 508.0 783.3 509.0 783.1 510.0 783.0 511.0 782.8 512.0 782.6 513.0 782.4 514.0 782.3 515.0 782.0 516.0 781.8 517.0 781.6 518.0 781.4 519.0 781.1 520.0 780.9 521.0 780.6 522.0 780.3 523.0 780.0 524.0 779.7 525.0 779.4 526.0 779.0 527.0 778.7 528.0 778.3 529.0 777.9 530.0 777.5 531.0 777.0 532.0 776.6 533.0 776.1 534.0 775.6 535.0 775.1 536.0 774.6 537.0 774.0 538.0 773.3 539.0 772.4 540.0 771.2 541.0 769.9 542.0 768.3 543.0 766.5 544.0 764.6 545.0 762.5 546.0 760.3 547.0 757.9 548.0 755.4 549.0 752.7 550.0 750.0 551.0 746.9 552.0 743.3 553.0 739.1 554.0 734.3 555.0 729.0 556.0 723.3 557.0 717.0 558.0 709.6 559.0 700.6 560.0 690.4 561.0 679.4 562.0 667.7 563.0 655.9 564.0 643.8 565.0 630.0 566.0 615.3 567.0 601.0 568.0 588.3 569.0 577.8 570.0 567.1 571.0 558.5 572.0 555.0 573.0 557.0 574.0 562.2 575.0 569.2 576.0 576.6 577.0 583.0 578.0 588.6 579.0 594.3 580.0 599.9 581.0 605.2 582.0 610.0 583.0 614.4 584.0 618.5 585.0 622.4 586.0 626.1 587.0 629.7 588.0 633.2 589.0 636.6 590.0 640.0 591.0 643.3 592.0 646.7 593.0 650.0 594.0 653.2 595.0 656.3 596.0 659.4 597.0 662.3 598.0 665.0 599.0 667.6 600.0 670.0 601.0 672.2 602.0 674.4 603.0 676.5 604.0 678.4 605.0 680.3 606.0 682.2 607.0 683.9 608.0 685.6 609.0 687.3 610.0 688.9 611.0 690.5 612.0 692.0 613.0 693.3 614.0 694.3 615.0 695.1 616.0 695.8 617.0 696.4 618.0 697.1 619.0 698.0 620.0 699.1 621.0 700.6 622.0 702.6 623.0 705.2 624.0 715.6 625.0 750.0 626.0 756.2 627.0 760.5 628.0 763.5 629.0 765.5 630.0 767.0 631.0 768.3 632.0 769.4 633.0 770.5 634.0 771.4 635.0 772.3 636.0 773.0 637.0 773.7 638.0 774.3 639.0 774.9 640.0 775.4 641.0 775.9 642.0 776.3 643.0 776.8 644.0 777.2 645.0 777.5 646.0 777.9 647.0 778.2 648.0 778.6 649.0 778.9 650.0 779.1 651.0 779.4 652.0 779.7 653.0 779.9 654.0 780.1 655.0 780.4 656.0 780.6 657.0 780.8 658.0 781.0 659.0 781.2 660.0 781.4 661.0 781.6 662.0 781.8 663.0 782.1 664.0 782.3 665.0 782.6 666.0 782.8 667.0 783.1 668.0 783.4 669.0 783.7 670.0 784.0 671.0 784.4 672.0 784.7 673.0 785.2 674.0 785.6 675.0 786.1 676.0 786.6 677.0 787.2 678.0 787.7 679.0 788.3 680.0 788.8 681.0 789.4 682.0 790.0 683.0 790.6 684.0 791.2 685.0 791.8 686.0 792.4 687.0 792.9 688.0 793.5 689.0 794.0 690.0 794.6 691.0 795.1 692.0 795.5 693.0 796.0 694.0 796.4 695.0 796.8 696.0 797.1 697.0 797.4 698.0 797.6 699.0 797.8 700.0 798.0 701.0 798.1 702.0 798.2 703.0 798.4 704.0 798.5 705.0 798.6 706.0 798.7 707.0 798.8 708.0 798.9 709.0 799.1 710.0 799.2 711.0 799.3 712.0 799.4 713.0 799.5 714.0 799.6 715.0 799.7 716.0 799.8 717.0 799.8 718.0 799.9 719.0 800.0 720.0 800.1 721.0 800.2 722.0 800.3 723.0 800.3 724.0 800.4 725.0 800.5 726.0 800.6 727.0 800.6 728.0 800.7 729.0 800.8 730.0 800.8 731.0 800.9 732.0 801.0 733.0 801.0 734.0 801.1 735.0 801.1 736.0 801.2 737.0 801.3 738.0 801.3 739.0 801.4 740.0 801.4 741.0 801.4 742.0 801.5 743.0 801.5 744.0 801.6 745.0 801.6 746.0 801.6 747.0 801.7 748.0 801.7 749.0 801.7 750.0 801.8 751.0 801.8 752.0 801.8 753.0 801.9 754.0 801.9 755.0 801.9 756.0 801.9 757.0 801.9 758.0 802.0 759.0 802.0 760.0 802.0 761.0 802.0 762.0 802.0 763.0 802.0 764.0 802.1 765.0 802.1 766.0 802.1 767.0 802.1 768.0 802.1 769.0 802.1 770.0 802.1 771.0 802.2 772.0 802.2 773.0 802.2 774.0 802.2 775.0 802.2 776.0 802.2 777.0 802.2 778.0 802.2 779.0 802.3 780.0 802.3 781.0 802.3 782.0 802.3 783.0 802.3 784.0 802.3 785.0 802.3 786.0 802.3 787.0 802.4 788.0 802.4 789.0 802.4 790.0 802.4 791.0 802.4 792.0 802.4 793.0 802.4 794.0 802.4 795.0 802.4 796.0 802.5 797.0 802.5 798.0 802.5 799.0 802.5 800.0 802.5 801.0 802.5 802.0 802.5 803.0 802.5 804.0 802.5 805.0 802.5 806.0 802.6 807.0 802.6 808.0 802.6 809.0 802.6 810.0 802.6 811.0 802.6 812.0 802.6 813.0 802.6 814.0 802.6 815.0 802.6 816.0 802.6 817.0 802.7 818.0 802.7 819.0 802.7 820.0 802.7 821.0 802.7 822.0 802.7 823.0 802.7 824.0 802.7 825.0 802.7 826.0 802.7 827.0 802.7 828.0 802.7 829.0 802.7 830.0 802.8 831.0 802.8 832.0 802.8 833.0 802.8 834.0 802.8 835.0 802.8 836.0 802.8 837.0 802.8 838.0 802.8 839.0 802.8 840.0 802.8 841.0 802.8 842.0 802.8 843.0 802.8 844.0 802.8 845.0 802.8 846.0 802.9 847.0 802.9 848.0 802.9 849.0 802.9 850.0 802.9 851.0 802.9 852.0 802.9 853.0 802.9 854.0 802.9 855.0 802.9 856.0 802.9 857.0 802.9 858.0 802.9 859.0 802.9 860.0 802.9 861.0 802.9 862.0 802.9 863.0 802.9 864.0 802.9 865.0 802.9 866.0 802.9 867.0 802.9 868.0 802.9 869.0 803.0 870.0 803.0 871.0 803.0 872.0 803.0 873.0 803.0 874.0 803.0 875.0 803.0 876.0 803.0 877.0 803.0 878.0 803.0 879.0 803.0 880.0 803.0 881.0 803.0 882.0 803.0 883.0 803.0 884.0 803.0 885.0 803.0 886.0 803.0 887.0 803.0 888.0 803.0 889.0 803.0 890.0 803.0 891.0 803.0 892.0 803.0 893.0 803.0 894.0 803.0 895.0 803.0 896.0 803.0 897.0 803.0 898.0 803.0 899.0 803.0 900.0 803.0 901.0 803.0 902.0 803.0 903.0 803.0 904.0 803.0 905.0 803.0 906.0 803.0 907.0 803.0 908.0 803.0 909.0 803.0 910.0 803.0 911.0 803.0 912.0 803.0 913.0 802.9 914.0 802.9 915.0 802.9 916.0 802.9 917.0 802.9 918.0 802.9 919.0 802.9 920.0 802.9 921.0 802.8 922.0 802.8 923.0 802.8 924.0 802.8 925.0 802.8 926.0 802.8 927.0 802.7 928.0 802.7 929.0 802.7 930.0 802.7 931.0 802.6 932.0 802.6 933.0 802.6 934.0 802.6 935.0 802.5 936.0 802.5 937.0 802.5 938.0 802.5 939.0 802.4 940.0 802.4 941.0 802.4 942.0 802.3 943.0 802.3 944.0 802.2 945.0 802.2 946.0 802.2 947.0 802.1 948.0 802.1 949.0 802.0 950.0 802.0 951.0 801.9 952.0 801.8 953.0 801.6 954.0 801.4 955.0 801.2 956.0 800.9 957.0 800.6 958.0 800.3 959.0 800.0 960.0 799.6 961.0 799.3 962.0 798.9 963.0 798.6 964.0 798.3 965.0 798.0 966.0 797.7 967.0 797.3 968.0 796.9 969.0 796.5 970.0 796.1 971.0 795.8 972.0 795.5 973.0 795.2 974.0 795.1 975.0 795.0 976.0 795.1 977.0 795.2 978.0 795.4 979.0 795.7 980.0 796.1 981.0 796.5 982.0 796.9 983.0 797.3 984.0 797.6 985.0 798.0 986.0 798.4 987.0 798.8 988.0 799.2 989.0 799.7 990.0 800.2 991.0 800.7 992.0 801.2 993.0 801.7 994.0 802.2 995.0 802.6 996.0 803.0 997.0 803.4 998.0 803.6 999.0 803.9 1000.0 804.0 1001.0 804.1 1002.0 804.2 1003.0 804.3 1004.0 804.4 1005.0 804.5 1006.0 804.5 1007.0 804.6 1008.0 804.7 1009.0 804.8 1010.0 804.9 1011.0 804.9 1012.0 805.0 1013.0 805.1 1014.0 805.1 1015.0 805.2 1016.0 805.2 1017.0 805.3 1018.0 805.4 1019.0 805.4 1020.0 805.5 1021.0 805.5 1022.0 805.6 1023.0 805.6 1024.0 805.6 1025.0 805.7 1026.0 805.7 1027.0 805.8 1028.0 805.8 1029.0 805.8 1030.0 805.8 1031.0 805.9 1032.0 805.9 1033.0 805.9 1034.0 805.9 1035.0 805.9 1036.0 806.0 1037.0 806.0 1038.0 806.0 1039.0 806.0 1040.0 806.0 1041.0 806.0 1042.0 806.0 1043.0 806.0 1044.0 806.0 1045.0 806.0 1046.0 806.0 1047.0 806.0 1048.0 806.0 1049.0 806.0 1050.0 806.0 1051.0 806.0 1052.0 806.0 1053.0 805.9 1054.0 805.9 1055.0 805.9 1056.0 805.9 1057.0 805.9 1058.0 805.9 1059.0 805.9 1060.0 805.9 1061.0 805.8 1062.0 805.8 1063.0 805.8 1064.0 805.8 1065.0 805.8 1066.0 805.7 1067.0 805.7 1068.0 805.7 1069.0 805.7 1070.0 805.7 1071.0 805.6 1072.0 805.6 1073.0 805.6 1074.0 805.6 1075.0 805.6 1076.0 805.5 1077.0 805.5 1078.0 805.5 1079.0 805.5 1080.0 805.4 1081.0 805.4 1082.0 805.4 1083.0 805.4 1084.0 805.3 1085.0 805.3 1086.0 805.3 1087.0 805.2 1088.0 805.2 1089.0 805.2 1090.0 805.2 1091.0 805.1 1092.0 805.1 1093.0 805.1 1094.0 805.1 1095.0 805.0 1096.0 805.0 1097.0 805.0 1098.0 804.9 1099.0 804.9 1100.0 804.9 1101.0 804.9 1102.0 804.8 1103.0 804.8 1104.0 804.8 1105.0 804.8 1106.0 804.7 1107.0 804.7 1108.0 804.7 1109.0 804.6 1110.0 804.6 1111.0 804.6 1112.0 804.6 1113.0 804.5 1114.0 804.5 1115.0 804.5 1116.0 804.5 1117.0 804.4 1118.0 804.4 1119.0 804.4 1120.0 804.4 1121.0 804.4 1122.0 804.3 1123.0 804.3 1124.0 804.3 1125.0 804.3 1126.0 804.3 1127.0 804.2 1128.0 804.2 1129.0 804.2 1130.0 804.2 1131.0 804.2 1132.0 804.1 1133.0 804.1 1134.0 804.1 1135.0 804.1 1136.0 804.1 1137.0 804.1 1138.0 804.1 1139.0 804.1 1140.0 804.0 1141.0 804.0 1142.0 804.0 1143.0 804.0 1144.0 804.0 1145.0 804.0 1146.0 804.0 1147.0 804.0 1148.0 804.0 1149.0 804.0 1150.0 804.0 1151.0 804.0 1152.0 804.0 1153.0 804.0 1154.0 804.0 1155.0 804.1 1156.0 804.1 1157.0 804.1 1158.0 804.1 1159.0 804.2 1160.0 804.2 1161.0 804.3 1162.0 804.3 1163.0 804.3 1164.0 804.4 1165.0 804.5 1166.0 804.5 1167.0 804.6 1168.0 804.7 1169.0 804.7 1170.0 804.8 1171.0 804.9 1172.0 805.0 1173.0 805.2 1174.0 805.6 1175.0 806.1 1176.0 806.8 1177.0 807.6 1178.0 808.4 1179.0 809.2 1180.0 809.9 1181.0 810.6 1182.0 811.2 1183.0 811.7 1184.0 811.9 1185.0 812.0 1186.0 812.0 1187.0 812.0 1188.0 811.9 1189.0 811.9 1190.0 811.9 1191.0 811.8 1192.0 811.7 1193.0 811.7 1194.0 811.6 1195.0 811.5 1196.0 811.4 1197.0 811.3 1198.0 811.2 1199.0 811.1 1200.0 811.0 1201.0 810.8 1202.0 810.6 1203.0 810.2 1204.0 809.8 1205.0 809.4 1206.0 808.9 1207.0 808.4 1208.0 807.9 1209.0 807.3 1210.0 806.9 1211.0 806.4 1212.0 806.0 1213.0 805.6 1214.0 805.2 1215.0 804.8 1216.0 804.3 1217.0 803.9 1218.0 803.4 1219.0 803.1 1220.0 802.7 1221.0 802.4 1222.0 802.2 1223.0 802.1 1224.0 802.0 1225.0 802.0 1226.0 802.0 1227.0 802.0 1228.0 802.0 1229.0 802.0 1230.0 802.0 1231.0 802.0 1232.0 802.0 1233.0 802.0 1234.0 802.0 1235.0 802.0 1236.0 802.0 1237.0 802.0 1238.0 802.0 1239.0 802.0 1240.0 802.0 1241.0 802.0 1242.0 802.0 1243.0 802.0 1244.0 802.0 1245.0 802.0 1246.0 802.0 1247.0 802.0 1248.0 802.0 1249.0 802.0 1250.0 802.1 1251.0 802.3 1252.0 802.7 1253.0 803.2 1254.0 803.7 1255.0 804.3 1256.0 805.0 1257.0 805.6 1258.0 806.2 1259.0 806.8 1260.0 807.3 1261.0 807.7 1262.0 808.0 1263.0 808.2 1264.0 808.4 1265.0 808.6 1266.0 808.9 1267.0 809.0 1268.0 809.2 1269.0 809.4 1270.0 809.6 1271.0 809.8 1272.0 810.0 1273.0 810.1 1274.0 810.3 1275.0 810.4 1276.0 810.6 1277.0 810.7 1278.0 810.9 1279.0 811.0 1280.0 811.1 1281.0 811.3 1282.0 811.4 1283.0 811.5 1284.0 811.6 1285.0 811.7 1286.0 811.8 1287.0 811.9 1288.0 812.0 1289.0 812.1 1290.0 812.2 1291.0 812.3 1292.0 812.4 1293.0 812.5 1294.0 812.6 1295.0 812.6 1296.0 812.7 1297.0 812.8 1298.0 812.9 1299.0 812.9 1300.0 813.0 1301.0 813.1 1302.0 813.1 1303.0 813.2 1304.0 813.3 1305.0 813.3 1306.0 813.4 1307.0 813.5 1308.0 813.5 1309.0 813.6 1310.0 813.7 1311.0 813.7 1312.0 813.8 1313.0 813.8 1314.0 813.9 1315.0 814.0 1316.0 814.0 1317.0 814.1 1318.0 814.1 1319.0 814.2 1320.0 814.3 1321.0 814.3 1322.0 814.4 1323.0 814.4 1324.0 814.5 1325.0 814.6 1326.0 814.6 1327.0 814.7 1328.0 814.7 1329.0 814.8 1330.0 814.8 1331.0 814.9 1332.0 815.0 1333.0 815.0 1334.0 815.1 1335.0 815.1 1336.0 815.2 1337.0 815.2 1338.0 815.3 1339.0 815.3 1340.0 815.4 1341.0 815.4 1342.0 815.5 1343.0 815.5 1344.0 815.6 1345.0 815.6 1346.0 815.7 1347.0 815.7 1348.0 815.7 1349.0 815.8 1350.0 815.8 1351.0 815.9 1352.0 815.9 1353.0 816.0 1354.0 816.0 1355.0 816.0 1356.0 816.1 1357.0 816.1 1358.0 816.2 1359.0 816.2 1360.0 816.2 1361.0 816.3 1362.0 816.3 1363.0 816.3 1364.0 816.4 1365.0 816.4 1366.0 816.4 1367.0 816.5 1368.0 816.5 1369.0 816.5 1370.0 816.6 1371.0 816.6 1372.0 816.6 1373.0 816.6 1374.0 816.7 1375.0 816.7 1376.0 816.7 1377.0 816.7 1378.0 816.8 1379.0 816.8 1380.0 816.8 1381.0 816.8 1382.0 816.8 1383.0 816.9 1384.0 816.9 1385.0 816.9 1386.0 816.9 1387.0 816.9 1388.0 816.9 1389.0 816.9 1390.0 816.9 1391.0 817.0 1392.0 817.0 1393.0 817.0 1394.0 817.0 1395.0 817.0 1396.0 817.0 1397.0 817.0 1398.0 817.0 1399.0 817.0 1400.0 817.0 1401.0 817.0 1402.0 817.0 1403.0 817.0 1404.0 817.0 1405.0 817.0 1406.0 817.0 1407.0 817.0 1408.0 817.0 1409.0 817.0 1410.0 817.0 1411.0 817.0 1412.0 817.0 1413.0 817.0 1414.0 817.0 1415.0 817.0 1416.0 817.0 1417.0 817.0 1418.0 817.0 1419.0 817.0 1420.0 817.0 1421.0 817.0 1422.0 817.0 1423.0 817.0 1424.0 817.0 1425.0 817.0 1426.0 817.0 1427.0 817.0 1428.0 817.0 1429.0 817.0 1430.0 817.0 1431.0 817.0 1432.0 817.0 1433.0 817.0 1434.0 817.0 1435.0 817.0 1436.0 817.0 1437.0 817.0 1438.0 817.0 1439.0 817.0 1440.0 817.0 1441.0 817.0 1442.0 817.0 1443.0 817.0 1444.0 817.0 1445.0 817.0 1446.0 817.0 1447.0 817.0 1448.0 817.0 1449.0 817.0 1450.0 817.0 1451.0 817.0 1452.0 817.0 1453.0 817.0 1454.0 817.0 1455.0 817.0 1456.0 817.0 1457.0 817.0 1458.0 817.0 1459.0 817.0 1460.0 817.0 1461.0 817.0 1462.0 817.0 1463.0 817.0 1464.0 817.0 1465.0 817.0 1466.0 817.0 1467.0 817.0 1468.0 817.0 1469.0 817.0 1470.0 817.0 1471.0 817.0 1472.0 817.0 1473.0 817.0 1474.0 817.0 1475.0 817.0 1476.0 817.0 1477.0 817.0 1478.0 817.0 1479.0 817.0 1480.0 817.0 1481.0 817.0 1482.0 817.0 1483.0 817.0 1484.0 817.0 1485.0 817.0 1486.0 817.0 1487.0 817.0 1488.0 817.0 1489.0 817.0 1490.0 817.0 1491.0 817.0 1492.0 817.0 1493.0 817.0 1494.0 817.0 1495.0 817.0 1496.0 817.0 1497.0 817.0 1498.0 817.0 1499.0 817.0 1500.0 817.0 1501.0 817.0 1502.0 817.0 1503.0 817.0 1504.0 817.0 1505.0 817.0 1506.0 817.0 1507.0 817.0 1508.0 817.0 1509.0 817.0 1510.0 817.0 1511.0 817.0 1512.0 817.0 1513.0 817.0 1514.0 817.0 1515.0 817.0 1516.0 817.0 1517.0 817.0 1518.0 817.0 1519.0 817.0 1520.0 817.0 1521.0 817.0 1522.0 817.0 1523.0 817.0 1524.0 817.0 1525.0 817.0 1526.0 817.0 1527.0 817.0 1528.0 817.0 1529.0 817.0 1530.0 817.0 1531.0 817.0 1532.0 817.0 1533.0 817.0 1534.0 817.0 1535.0 817.0 1536.0 817.0 1537.0 817.0 1538.0 817.0 1539.0 817.0 1540.0 817.0 1541.0 817.0 1542.0 817.0 1543.0 817.0 1544.0 817.0 1545.0 817.0 1546.0 817.0 1547.0 817.0 1548.0 817.0 1549.0 817.0 1550.0 817.0 1551.0 817.0 1552.0 817.0 1553.0 817.0 1554.0 817.0 1555.0 817.0 1556.0 817.0 1557.0 817.0 1558.0 817.0 1559.0 817.0 1560.0 817.0 1561.0 817.0 1562.0 817.0 1563.0 817.0 1564.0 817.0 1565.0 817.0 1566.0 817.0 1567.0 817.0 1568.0 817.0 1569.0 817.0 1570.0 817.0 1571.0 817.0 1572.0 817.0 1573.0 817.0 1574.0 817.0 1575.0 817.0 1576.0 817.0 1577.0 817.0 1578.0 817.0 1579.0 817.0 1580.0 817.0 1581.0 817.0 1582.0 817.0 1583.0 817.0 1584.0 817.0 1585.0 817.0 1586.0 817.0 1587.0 817.0 1588.0 817.0 1589.0 817.0 1590.0 817.0 1591.0 817.0 1592.0 817.0 1593.0 817.0 1594.0 817.0 1595.0 817.0 1596.0 817.0 1597.0 817.0 1598.0 817.0 1599.0 817.0 1600.0 817.0 1601.0 817.0 1602.0 817.0 1603.0 817.0 1604.0 817.0 1605.0 817.0 1606.0 817.0 1607.0 817.0 1608.0 817.0 1609.0 817.0 1610.0 817.0 1611.0 817.0 1612.0 817.0 1613.0 817.0 1614.0 817.0 1615.0 817.0 1616.0 817.0 1617.0 817.0 1618.0 817.0 1619.0 817.0 1620.0 817.0 1621.0 817.0 1622.0 817.0 1623.0 817.0 1624.0 817.0 1625.0 817.0 1626.0 817.0 1627.0 817.0 1628.0 817.0 1629.0 817.0 1630.0 817.0 1631.0 817.0 1632.0 817.0 1633.0 817.0 1634.0 817.0 1635.0 817.0 1636.0 817.0 1637.0 817.0 1638.0 817.0 1639.0 817.0 1640.0 817.0 1641.0 817.0 1642.0 817.0 1643.0 817.0 1644.0 817.0 1645.0 817.0 1646.0 817.0 1647.0 817.0 1648.0 817.0 1649.0 817.0 1650.0 817.0 1651.0 817.0 1652.0 817.0 1653.0 817.0 1654.0 817.0 1655.0 817.0 1656.0 817.0 1657.0 817.0 1658.0 817.0 1659.0 817.0 1660.0 817.0 1661.0 817.0 1662.0 817.0 1663.0 817.0 1664.0 817.0 1665.0 817.0 1666.0 817.0 1667.0 817.0 1668.0 817.0 1669.0 817.0 1670.0 817.0 1671.0 817.0 1672.0 817.0 1673.0 817.0 1674.0 817.0 1675.0 817.0 1676.0 817.0 1677.0 817.0 1678.0 817.0 1679.0 817.0 1680.0 817.0 1681.0 817.0 1682.0 817.0 1683.0 817.0 1684.0 817.0 1685.0 817.0 1686.0 817.0 1687.0 817.0 1688.0 817.0 1689.0 817.0 1690.0 817.0 1691.0 817.0 1692.0 817.0 1693.0 817.0 1694.0 817.0 1695.0 817.0 1696.0 817.0 1697.0 817.0 1698.0 817.0 1699.0 817.0 1700.0 817.0 1701.0 817.0 1702.0 817.0 1703.0 817.0 1704.0 817.0 1705.0 817.0 1706.0 817.0 1707.0 817.0 1708.0 817.0 1709.0 817.0 1710.0 817.0 1711.0 817.0 1712.0 817.0 1713.0 817.0 1714.0 817.0 1715.0 817.0 1716.0 817.0 1717.0 817.0 1718.0 817.0 1719.0 817.0 1720.0 817.0 1721.0 817.0 1722.0 817.0 1723.0 817.0 1724.0 817.0 1725.0 817.0 1726.0 817.0 1727.0 817.0 1728.0 817.0 1729.0 817.0 1730.0 817.0 1731.0 817.0 1732.0 817.0 1733.0 817.0 1734.0 817.0 1735.0 817.0 1736.0 817.0 1737.0 817.0 1738.0 817.0 1739.0 817.0 1740.0 817.0 1741.0 817.0 1742.0 817.0 1743.0 817.0 1744.0 817.0 1745.0 817.0 1746.0 817.0 1747.0 817.0 1748.0 817.0 1749.0 817.0 1750.0 817.0 1751.0 817.0 1752.0 817.0 1753.0 817.0 1754.0 817.0 1755.0 817.0 1756.0 817.0 1757.0 817.0 1758.0 817.0 1759.0 817.0 1760.0 817.0 1761.0 817.0 1762.0 817.0 1763.0 817.0 1764.0 817.0 1765.0 817.0 1766.0 817.0 1767.0 817.0 1768.0 817.0 1769.0 817.0 1770.0 817.0 1771.0 817.0 1772.0 817.0 1773.0 817.0 1774.0 817.0 1775.0 817.0 1776.0 817.0 1777.0 817.0 1778.0 817.0 1779.0 817.0 1780.0 817.0 1781.0 817.0 1782.0 817.0 1783.0 817.0 1784.0 817.0 1785.0 817.0 1786.0 817.0 1787.0 817.0 1788.0 817.0 1789.0 817.0 1790.0 817.0 1791.0 817.0 1792.0 817.0 1793.0 817.0 1794.0 817.0 1795.0 817.0 1796.0 817.0 1797.0 817.0 1798.0 817.0 1799.0 817.0 1800.0 817.0 1801.0 817.0 1802.0 817.0 1803.0 817.0 1804.0 817.0 1805.0 817.0 1806.0 817.0 1807.0 817.0 1808.0 817.0" fill="none" stroke="#f2506a" stroke-width="2.8" stroke-linejoin="round" opacity="1"/>
<path d="M158.0 787.0 159.0 787.0 160.0 787.0 161.0 787.0 162.0 787.0 163.0 786.9 164.0 786.9 165.0 786.9 166.0 786.9 167.0 786.9 168.0 786.9 169.0 786.9 170.0 786.9 171.0 786.9 172.0 786.9 173.0 786.8 174.0 786.8 175.0 786.8 176.0 786.8 177.0 786.8 178.0 786.8 179.0 786.8 180.0 786.8 181.0 786.8 182.0 786.8 183.0 786.7 184.0 786.7 185.0 786.7 186.0 786.7 187.0 786.7 188.0 786.7 189.0 786.7 190.0 786.7 191.0 786.7 192.0 786.7 193.0 786.6 194.0 786.6 195.0 786.6 196.0 786.6 197.0 786.6 198.0 786.6 199.0 786.6 200.0 786.6 201.0 786.6 202.0 786.6 203.0 786.5 204.0 786.5 205.0 786.5 206.0 786.5 207.0 786.5 208.0 786.5 209.0 786.5 210.0 786.5 211.0 786.5 212.0 786.5 213.0 786.5 214.0 786.4 215.0 786.4 216.0 786.4 217.0 786.4 218.0 786.4 219.0 786.4 220.0 786.4 221.0 786.4 222.0 786.4 223.0 786.4 224.0 786.4 225.0 786.4 226.0 786.3 227.0 786.3 228.0 786.3 229.0 786.3 230.0 786.3 231.0 786.3 232.0 786.3 233.0 786.3 234.0 786.3 235.0 786.3 236.0 786.3 237.0 786.3 238.0 786.3 239.0 786.2 240.0 786.2 241.0 786.2 242.0 786.2 243.0 786.2 244.0 786.2 245.0 786.2 246.0 786.2 247.0 786.2 248.0 786.2 249.0 786.2 250.0 786.2 251.0 786.2 252.0 786.2 253.0 786.2 254.0 786.1 255.0 786.1 256.0 786.1 257.0 786.1 258.0 786.1 259.0 786.1 260.0 786.1 261.0 786.1 262.0 786.1 263.0 786.1 264.0 786.1 265.0 786.1 266.0 786.1 267.0 786.1 268.0 786.1 269.0 786.1 270.0 786.1 271.0 786.1 272.0 786.1 273.0 786.1 274.0 786.0 275.0 786.0 276.0 786.0 277.0 786.0 278.0 786.0 279.0 786.0 280.0 786.0 281.0 786.0 282.0 786.0 283.0 786.0 284.0 786.0 285.0 786.0 286.0 786.0 287.0 786.0 288.0 786.0 289.0 786.0 290.0 786.0 291.0 786.0 292.0 786.0 293.0 786.0 294.0 786.0 295.0 786.0 296.0 786.0 297.0 786.0 298.0 786.0 299.0 786.0 300.0 786.0 301.0 786.0 302.0 786.0 303.0 786.0 304.0 786.0 305.0 786.0 306.0 786.0 307.0 786.0 308.0 786.0 309.0 786.0 310.0 786.0 311.0 786.0 312.0 786.0 313.0 786.0 314.0 786.0 315.0 786.0 316.0 786.0 317.0 786.0 318.0 786.0 319.0 786.0 320.0 786.0 321.0 786.0 322.0 786.0 323.0 786.0 324.0 786.0 325.0 786.0 326.0 786.0 327.0 786.0 328.0 786.0 329.0 786.0 330.0 786.0 331.0 786.0 332.0 786.0 333.0 786.0 334.0 786.0 335.0 786.0 336.0 786.0 337.0 786.0 338.0 786.0 339.0 786.0 340.0 786.0 341.0 786.0 342.0 786.0 343.0 786.0 344.0 786.0 345.0 786.0 346.0 786.0 347.0 786.0 348.0 786.0 349.0 786.0 350.0 786.0 351.0 786.0 352.0 786.0 353.0 786.0 354.0 786.0 355.0 786.0 356.0 786.0 357.0 786.0 358.0 786.0 359.0 786.0 360.0 786.0 361.0 786.0 362.0 786.0 363.0 786.0 364.0 786.0 365.0 786.0 366.0 786.0 367.0 786.0 368.0 786.0 369.0 786.0 370.0 786.0 371.0 786.0 372.0 786.0 373.0 786.0 374.0 786.0 375.0 786.0 376.0 786.0 377.0 786.0 378.0 786.0 379.0 786.0 380.0 786.0 381.0 786.0 382.0 786.0 383.0 786.0 384.0 786.0 385.0 786.0 386.0 786.0 387.0 786.0 388.0 786.0 389.0 786.0 390.0 786.0 391.0 786.0 392.0 786.0 393.0 786.0 394.0 786.0 395.0 786.0 396.0 786.0 397.0 786.0 398.0 786.0 399.0 786.0 400.0 786.0 401.0 786.0 402.0 786.0 403.0 786.0 404.0 786.0 405.0 786.0 406.0 786.0 407.0 786.0 408.0 786.0 409.0 786.0 410.0 786.0 411.0 786.0 412.0 786.0 413.0 786.0 414.0 786.0 415.0 786.0 416.0 786.0 417.0 786.0 418.0 786.0 419.0 786.0 420.0 786.0 421.0 786.0 422.0 786.0 423.0 786.0 424.0 786.0 425.0 786.0 426.0 786.0 427.0 786.0 428.0 786.0 429.0 786.0 430.0 786.0 431.0 786.0 432.0 786.0 433.0 786.0 434.0 786.0 435.0 786.0 436.0 786.0 437.0 786.0 438.0 786.0 439.0 786.0 440.0 786.0 441.0 786.0 442.0 786.0 443.0 786.0 444.0 786.0 445.0 786.0 446.0 786.0 447.0 786.0 448.0 786.0 449.0 786.0 450.0 786.0 451.0 786.0 452.0 786.0 453.0 786.0 454.0 786.0 455.0 786.0 456.0 786.0 457.0 786.0 458.0 786.0 459.0 786.0 460.0 786.0 461.0 786.0 462.0 786.0 463.0 786.0 464.0 786.0 465.0 786.0 466.0 786.0 467.0 786.0 468.0 786.0 469.0 786.0 470.0 786.0 471.0 786.0 472.0 786.0 473.0 786.0 474.0 786.0 475.0 786.0 476.0 786.0 477.0 786.0 478.0 786.0 479.0 786.0 480.0 786.0 481.0 785.9 482.0 785.8 483.0 785.5 484.0 785.2 485.0 784.7 486.0 784.2 487.0 783.7 488.0 783.0 489.0 782.4 490.0 781.7 491.0 780.9 492.0 780.2 493.0 779.5 494.0 778.7 495.0 778.0 496.0 777.2 497.0 776.4 498.0 775.4 499.0 774.4 500.0 773.3 501.0 772.2 502.0 771.1 503.0 770.0 504.0 768.9 505.0 767.7 506.0 766.6 507.0 765.4 508.0 764.2 509.0 762.9 510.0 761.5 511.0 760.1 512.0 758.6 513.0 757.0 514.0 755.3 515.0 753.5 516.0 751.6 517.0 749.6 518.0 747.4 519.0 745.1 520.0 742.6 521.0 739.9 522.0 737.1 523.0 734.0 524.0 730.6 525.0 726.9 526.0 722.7 527.0 718.0 528.0 712.7 529.0 706.7 530.0 700.0 531.0 691.3 532.0 679.9 533.0 666.9 534.0 653.2 535.0 640.0 536.0 627.1 537.0 613.8 538.0 600.0 539.0 585.4 540.0 570.2 541.0 555.0 542.0 539.9 543.0 524.8 544.0 510.0 545.0 495.3 546.0 481.0 547.0 468.0 548.0 456.0 549.0 445.6 550.0 439.1 551.0 434.1 552.0 432.0 553.0 437.7 554.0 448.0 555.0 458.6 556.0 470.0 557.0 479.9 558.0 489.1 559.0 499.2 560.0 512.0 561.0 529.7 562.0 555.0 563.0 599.0 564.0 629.8 565.0 656.5 566.0 682.8 567.0 700.0 568.0 708.4 569.0 715.2 570.0 720.5 571.0 725.0 572.0 728.7 573.0 732.2 574.0 735.8 575.0 739.2 576.0 742.6 577.0 745.8 578.0 748.7 579.0 751.5 580.0 754.0 581.0 756.1 582.0 758.0 583.0 759.4 584.0 760.5 585.0 761.5 586.0 762.5 587.0 763.4 588.0 764.3 589.0 765.1 590.0 765.9 591.0 766.6 592.0 767.3 593.0 767.9 594.0 768.5 595.0 769.1 596.0 769.6 597.0 770.1 598.0 770.5 599.0 770.9 600.0 771.2 601.0 771.5 602.0 771.7 603.0 771.9 604.0 772.1 605.0 772.2 606.0 772.4 607.0 772.5 608.0 772.6 609.0 772.8 610.0 772.9 611.0 773.0 612.0 773.1 613.0 773.2 614.0 773.3 615.0 773.4 616.0 773.5 617.0 773.6 618.0 773.7 619.0 773.7 620.0 773.8 621.0 773.8 622.0 773.9 623.0 773.9 624.0 774.0 625.0 774.0 626.0 774.0 627.0 774.0 628.0 773.9 629.0 773.6 630.0 773.0 631.0 772.3 632.0 771.3 633.0 770.2 634.0 768.9 635.0 767.4 636.0 765.8 637.0 764.0 638.0 760.5 639.0 754.7 640.0 747.5 641.0 740.3 642.0 734.0 643.0 728.5 644.0 722.8 645.0 717.3 646.0 712.3 647.0 708.1 648.0 705.0 649.0 702.6 650.0 700.4 651.0 698.3 652.0 696.6 653.0 695.2 654.0 694.3 655.0 694.0 656.0 694.3 657.0 695.2 658.0 696.5 659.0 698.2 660.0 700.3 661.0 702.5 662.0 705.0 663.0 708.6 664.0 714.1 665.0 720.6 666.0 727.6 667.0 734.3 668.0 740.0 669.0 745.1 670.0 750.3 671.0 755.4 672.0 760.3 673.0 764.8 674.0 768.9 675.0 772.3 676.0 775.0 677.0 777.2 678.0 779.3 679.0 781.3 680.0 783.2 681.0 784.9 682.0 786.6 683.0 788.1 684.0 789.5 685.0 790.7 686.0 791.9 687.0 792.9 688.0 793.7 689.0 794.4 690.0 795.0 691.0 795.5 692.0 796.0 693.0 796.4 694.0 796.9 695.0 797.3 696.0 797.7 697.0 798.1 698.0 798.5 699.0 798.9 700.0 799.3 701.0 799.6 702.0 799.9 703.0 800.3 704.0 800.6 705.0 800.8 706.0 801.1 707.0 801.4 708.0 801.6 709.0 801.8 710.0 802.0 711.0 802.2 712.0 802.4 713.0 802.5 714.0 802.6 715.0 802.7 716.0 802.8 717.0 802.9 718.0 803.0 719.0 803.0 720.0 803.0 721.0 803.0 722.0 803.0 723.0 803.0 724.0 803.0 725.0 803.0 726.0 803.0 727.0 803.0 728.0 803.0 729.0 803.0 730.0 803.0 731.0 803.0 732.0 803.0 733.0 803.0 734.0 803.0 735.0 803.0 736.0 803.0 737.0 803.0 738.0 803.0 739.0 803.0 740.0 803.0 741.0 803.0 742.0 803.0 743.0 803.0 744.0 803.0 745.0 803.0 746.0 803.0 747.0 803.0 748.0 803.0 749.0 803.0 750.0 803.0 751.0 803.0 752.0 803.0 753.0 803.0 754.0 803.0 755.0 803.0 756.0 803.0 757.0 803.0 758.0 803.0 759.0 803.0 760.0 803.0 761.0 803.0 762.0 803.0 763.0 803.0 764.0 803.0 765.0 803.0 766.0 803.0 767.0 803.0 768.0 803.0 769.0 803.0 770.0 803.0 771.0 803.0 772.0 803.0 773.0 803.0 774.0 803.0 775.0 803.0 776.0 803.0 777.0 803.0 778.0 803.0 779.0 803.0 780.0 803.0 781.0 803.0 782.0 803.0 783.0 803.0 784.0 803.0 785.0 803.0 786.0 803.0 787.0 803.0 788.0 803.0 789.0 803.0 790.0 803.0 791.0 803.0 792.0 803.0 793.0 803.0 794.0 803.0 795.0 803.0 796.0 803.0 797.0 803.0 798.0 803.0 799.0 803.0 800.0 803.0 801.0 803.0 802.0 803.0 803.0 803.0 804.0 803.0 805.0 803.0 806.0 803.0 807.0 803.0 808.0 803.0 809.0 803.0 810.0 803.0 811.0 803.0 812.0 803.0 813.0 803.0 814.0 803.0 815.0 803.0 816.0 803.0 817.0 803.0 818.0 803.0 819.0 803.0 820.0 803.0 821.0 803.0 822.0 803.0 823.0 803.0 824.0 803.0 825.0 803.0 826.0 803.0 827.0 803.0 828.0 803.0 829.0 803.0 830.0 803.0 831.0 803.0 832.0 803.0 833.0 803.0 834.0 803.0 835.0 803.0 836.0 803.0 837.0 803.0 838.0 803.0 839.0 803.0 840.0 803.0 841.0 803.0 842.0 803.0 843.0 803.0 844.0 803.0 845.0 803.0 846.0 803.0 847.0 803.0 848.0 803.0 849.0 803.0 850.0 803.0 851.0 803.0 852.0 803.0 853.0 803.0 854.0 803.0 855.0 803.0 856.0 803.0 857.0 803.0 858.0 803.0 859.0 803.0 860.0 803.0 861.0 803.0 862.0 803.0 863.0 803.0 864.0 803.0 865.0 803.0 866.0 803.0 867.0 803.0 868.0 803.0 869.0 803.0 870.0 803.0 871.0 803.0 872.0 803.0 873.0 803.0 874.0 803.0 875.0 803.0 876.0 803.0 877.0 803.0 878.0 803.0 879.0 803.0 880.0 803.0 881.0 803.0 882.0 803.0 883.0 803.0 884.0 803.0 885.0 803.0 886.0 803.0 887.0 803.0 888.0 803.0 889.0 803.0 890.0 803.0 891.0 803.0 892.0 803.0 893.0 803.0 894.0 803.0 895.0 803.0 896.0 803.0 897.0 803.0 898.0 803.0 899.0 803.0 900.0 803.0 901.0 803.0 902.0 803.0 903.0 803.0 904.0 803.0 905.0 802.9 906.0 802.9 907.0 802.9 908.0 802.9 909.0 802.8 910.0 802.8 911.0 802.7 912.0 802.7 913.0 802.6 914.0 802.6 915.0 802.5 916.0 802.4 917.0 802.4 918.0 802.3 919.0 802.2 920.0 802.1 921.0 802.0 922.0 801.9 923.0 801.8 924.0 801.7 925.0 801.5 926.0 801.4 927.0 801.3 928.0 801.1 929.0 801.0 930.0 800.9 931.0 800.7 932.0 800.5 933.0 800.4 934.0 800.2 935.0 800.0 936.0 799.7 937.0 799.2 938.0 798.6 939.0 797.7 940.0 796.8 941.0 795.6 942.0 794.3 943.0 792.9 944.0 791.4 945.0 789.7 946.0 788.0 947.0 785.7 948.0 782.6 949.0 778.8 950.0 774.5 951.0 769.8 952.0 764.9 953.0 760.0 954.0 755.0 955.0 749.6 956.0 743.8 957.0 737.7 958.0 731.2 959.0 724.3 960.0 717.0 961.0 708.6 962.0 698.8 963.0 688.1 964.0 677.2 965.0 666.6 966.0 656.9 967.0 648.7 968.0 642.3 969.0 636.4 970.0 631.0 971.0 626.1 972.0 621.5 973.0 617.3 974.0 613.5 975.0 610.0 976.0 606.6 977.0 603.0 978.0 599.7 979.0 596.8 980.0 594.5 981.0 593.2 982.0 593.1 983.0 594.7 984.0 597.5 985.0 601.2 986.0 605.5 987.0 610.0 988.0 615.2 989.0 621.8 990.0 629.4 991.0 637.6 992.0 646.0 993.0 655.2 994.0 665.6 995.0 676.7 996.0 688.0 997.0 698.8 998.0 708.7 999.0 717.0 1000.0 724.2 1001.0 731.1 1002.0 737.6 1003.0 743.7 1004.0 749.2 1005.0 754.0 1006.0 758.2 1007.0 761.7 1008.0 765.0 1009.0 768.1 1010.0 771.1 1011.0 774.0 1012.0 776.7 1013.0 779.2 1014.0 781.5 1015.0 783.7 1016.0 785.7 1017.0 787.4 1018.0 789.0 1019.0 790.3 1020.0 791.4 1021.0 792.3 1022.0 793.2 1023.0 794.0 1024.0 794.8 1025.0 795.5 1026.0 796.2 1027.0 796.9 1028.0 797.6 1029.0 798.2 1030.0 798.8 1031.0 799.4 1032.0 799.9 1033.0 800.4 1034.0 800.8 1035.0 801.2 1036.0 801.5 1037.0 801.8 1038.0 802.1 1039.0 802.3 1040.0 802.5 1041.0 802.6 1042.0 802.6 1043.0 802.6 1044.0 802.6 1045.0 802.6 1046.0 802.7 1047.0 802.7 1048.0 802.7 1049.0 802.7 1050.0 802.7 1051.0 802.7 1052.0 802.7 1053.0 802.8 1054.0 802.8 1055.0 802.8 1056.0 802.8 1057.0 802.8 1058.0 802.8 1059.0 802.8 1060.0 802.8 1061.0 802.8 1062.0 802.8 1063.0 802.9 1064.0 802.9 1065.0 802.9 1066.0 802.9 1067.0 802.9 1068.0 802.9 1069.0 802.9 1070.0 802.9 1071.0 802.9 1072.0 802.9 1073.0 802.9 1074.0 802.9 1075.0 802.9 1076.0 802.9 1077.0 802.9 1078.0 803.0 1079.0 803.0 1080.0 803.0 1081.0 803.0 1082.0 803.0 1083.0 803.0 1084.0 803.0 1085.0 803.0 1086.0 803.0 1087.0 803.0 1088.0 803.0 1089.0 803.0 1090.0 803.0 1091.0 803.0 1092.0 803.0 1093.0 803.0 1094.0 803.0 1095.0 803.0 1096.0 803.0 1097.0 803.0 1098.0 803.0 1099.0 803.0 1100.0 803.0 1101.0 803.0 1102.0 803.0 1103.0 803.0 1104.0 802.9 1105.0 802.9 1106.0 802.8 1107.0 802.8 1108.0 802.7 1109.0 802.6 1110.0 802.5 1111.0 802.4 1112.0 802.3 1113.0 802.2 1114.0 802.1 1115.0 802.0 1116.0 801.9 1117.0 801.6 1118.0 801.4 1119.0 801.1 1120.0 800.7 1121.0 800.3 1122.0 799.9 1123.0 799.5 1124.0 799.0 1125.0 798.5 1126.0 798.0 1127.0 797.5 1128.0 796.8 1129.0 796.2 1130.0 795.4 1131.0 794.6 1132.0 793.7 1133.0 792.8 1134.0 791.9 1135.0 790.8 1136.0 789.8 1137.0 788.7 1138.0 787.5 1139.0 786.3 1140.0 785.1 1141.0 783.7 1142.0 782.3 1143.0 780.7 1144.0 779.1 1145.0 777.2 1146.0 775.2 1147.0 773.0 1148.0 770.6 1149.0 768.0 1150.0 764.6 1151.0 760.1 1152.0 754.7 1153.0 748.6 1154.0 742.0 1155.0 735.3 1156.0 728.5 1157.0 722.0 1158.0 715.5 1159.0 708.6 1160.0 701.5 1161.0 694.5 1162.0 687.7 1163.0 681.3 1164.0 675.0 1165.0 668.1 1166.0 660.0 1167.0 648.8 1168.0 635.3 1169.0 622.8 1170.0 613.9 1171.0 606.1 1172.0 599.0 1173.0 592.7 1174.0 587.5 1175.0 583.5 1176.0 580.7 1177.0 578.3 1178.0 576.2 1179.0 574.5 1180.0 573.4 1181.0 573.0 1182.0 573.5 1183.0 575.2 1184.0 578.0 1185.0 596.5 1186.0 610.9 1187.0 619.8 1188.0 628.0 1189.0 636.5 1190.0 644.5 1191.0 652.0 1192.0 658.4 1193.0 665.0 1194.0 673.2 1195.0 682.6 1196.0 692.4 1197.0 702.0 1198.0 711.9 1199.0 722.3 1200.0 732.3 1201.0 740.7 1202.0 747.2 1203.0 753.1 1204.0 758.6 1205.0 763.4 1206.0 767.5 1207.0 770.9 1208.0 773.4 1209.0 775.6 1210.0 777.6 1211.0 779.5 1212.0 781.2 1213.0 782.6 1214.0 783.7 1215.0 784.5 1216.0 785.0 1217.0 785.3 1218.0 785.5 1219.0 785.8 1220.0 786.0 1221.0 786.1 1222.0 786.3 1223.0 786.4 1224.0 786.6 1225.0 786.7 1226.0 786.8 1227.0 786.9 1228.0 786.9 1229.0 787.0 1230.0 787.1 1231.0 787.1 1232.0 787.2 1233.0 787.3 1234.0 787.3 1235.0 787.4 1236.0 787.5 1237.0 787.6 1238.0 787.7 1239.0 787.8 1240.0 788.0 1241.0 788.1 1242.0 788.3 1243.0 788.5 1244.0 788.7 1245.0 789.0 1246.0 789.4 1247.0 790.1 1248.0 791.0 1249.0 791.9 1250.0 793.0 1251.0 794.0 1252.0 794.9 1253.0 795.6 1254.0 796.2 1255.0 796.7 1256.0 797.2 1257.0 797.7 1258.0 798.2 1259.0 798.6 1260.0 799.1 1261.0 799.5 1262.0 800.0 1263.0 800.4 1264.0 800.8 1265.0 801.2 1266.0 801.6 1267.0 802.0 1268.0 802.4 1269.0 802.8 1270.0 803.1 1271.0 803.5 1272.0 803.8 1273.0 804.1 1274.0 804.4 1275.0 804.7 1276.0 805.0 1277.0 805.3 1278.0 805.6 1279.0 805.9 1280.0 806.1 1281.0 806.3 1282.0 806.6 1283.0 806.8 1284.0 807.0 1285.0 807.2 1286.0 807.4 1287.0 807.5 1288.0 807.7 1289.0 807.9 1290.0 808.0 1291.0 808.1 1292.0 808.3 1293.0 808.4 1294.0 808.5 1295.0 808.7 1296.0 808.8 1297.0 808.9 1298.0 809.0 1299.0 809.2 1300.0 809.3 1301.0 809.4 1302.0 809.5 1303.0 809.7 1304.0 809.8 1305.0 809.9 1306.0 810.0 1307.0 810.1 1308.0 810.3 1309.0 810.4 1310.0 810.5 1311.0 810.6 1312.0 810.7 1313.0 810.8 1314.0 810.9 1315.0 811.0 1316.0 811.2 1317.0 811.3 1318.0 811.4 1319.0 811.5 1320.0 811.6 1321.0 811.7 1322.0 811.8 1323.0 811.9 1324.0 812.0 1325.0 812.1 1326.0 812.2 1327.0 812.3 1328.0 812.4 1329.0 812.5 1330.0 812.6 1331.0 812.7 1332.0 812.8 1333.0 812.8 1334.0 812.9 1335.0 813.0 1336.0 813.1 1337.0 813.2 1338.0 813.3 1339.0 813.4 1340.0 813.4 1341.0 813.5 1342.0 813.6 1343.0 813.7 1344.0 813.8 1345.0 813.8 1346.0 813.9 1347.0 814.0 1348.0 814.1 1349.0 814.1 1350.0 814.2 1351.0 814.3 1352.0 814.3 1353.0 814.4 1354.0 814.5 1355.0 814.5 1356.0 814.6 1357.0 814.7 1358.0 814.7 1359.0 814.8 1360.0 814.8 1361.0 814.9 1362.0 814.9 1363.0 815.0 1364.0 815.0 1365.0 815.1 1366.0 815.1 1367.0 815.2 1368.0 815.2 1369.0 815.3 1370.0 815.3 1371.0 815.4 1372.0 815.4 1373.0 815.5 1374.0 815.5 1375.0 815.5 1376.0 815.6 1377.0 815.6 1378.0 815.6 1379.0 815.7 1380.0 815.7 1381.0 815.7 1382.0 815.8 1383.0 815.8 1384.0 815.8 1385.0 815.8 1386.0 815.9 1387.0 815.9 1388.0 815.9 1389.0 815.9 1390.0 815.9 1391.0 815.9 1392.0 816.0 1393.0 816.0 1394.0 816.0 1395.0 816.0 1396.0 816.0 1397.0 816.0 1398.0 816.0 1399.0 816.0 1400.0 816.0 1401.0 816.0 1402.0 816.0 1403.0 816.0 1404.0 816.0 1405.0 816.0 1406.0 816.0 1407.0 816.0 1408.0 816.0 1409.0 816.0 1410.0 816.0 1411.0 816.0 1412.0 816.0 1413.0 816.0 1414.0 816.0 1415.0 816.0 1416.0 816.0 1417.0 816.0 1418.0 816.0 1419.0 816.0 1420.0 816.0 1421.0 816.0 1422.0 816.0 1423.0 816.0 1424.0 816.0 1425.0 816.0 1426.0 816.0 1427.0 816.0 1428.0 816.0 1429.0 816.0 1430.0 816.0 1431.0 816.0 1432.0 816.0 1433.0 816.0 1434.0 816.0 1435.0 816.0 1436.0 816.0 1437.0 816.0 1438.0 816.0 1439.0 816.0 1440.0 816.0 1441.0 816.0 1442.0 816.0 1443.0 816.0 1444.0 816.0 1445.0 816.0 1446.0 816.0 1447.0 816.0 1448.0 816.0 1449.0 816.0 1450.0 816.0 1451.0 816.0 1452.0 816.0 1453.0 816.0 1454.0 816.0 1455.0 816.0 1456.0 816.0 1457.0 816.0 1458.0 816.0 1459.0 816.0 1460.0 816.0 1461.0 816.0 1462.0 816.0 1463.0 816.0 1464.0 816.0 1465.0 816.0 1466.0 816.0 1467.0 816.0 1468.0 816.0 1469.0 816.0 1470.0 816.0 1471.0 816.0 1472.0 816.0 1473.0 816.0 1474.0 816.0 1475.0 816.0 1476.0 816.0 1477.0 816.0 1478.0 816.0 1479.0 816.0 1480.0 816.0 1481.0 816.0 1482.0 816.0 1483.0 816.0 1484.0 816.0 1485.0 816.0 1486.0 816.0 1487.0 816.0 1488.0 816.0 1489.0 816.0 1490.0 816.0 1491.0 816.0 1492.0 816.0 1493.0 816.0 1494.0 816.0 1495.0 816.0 1496.0 816.0 1497.0 816.0 1498.0 816.0 1499.0 816.0 1500.0 816.0 1501.0 816.0 1502.0 816.0 1503.0 816.0 1504.0 816.0 1505.0 816.0 1506.0 816.0 1507.0 816.0 1508.0 816.0 1509.0 816.0 1510.0 816.0 1511.0 816.0 1512.0 816.0 1513.0 816.0 1514.0 816.0 1515.0 816.0 1516.0 816.0 1517.0 816.0 1518.0 816.0 1519.0 816.0 1520.0 816.0 1521.0 816.0 1522.0 816.0 1523.0 816.0 1524.0 816.0 1525.0 816.0 1526.0 816.0 1527.0 816.0 1528.0 816.0 1529.0 816.0 1530.0 816.0 1531.0 816.0 1532.0 816.0 1533.0 816.0 1534.0 816.0 1535.0 816.0 1536.0 816.0 1537.0 816.0 1538.0 816.0 1539.0 816.0 1540.0 816.0 1541.0 816.0 1542.0 816.0 1543.0 816.0 1544.0 816.0 1545.0 816.0 1546.0 816.0 1547.0 816.0 1548.0 816.0 1549.0 816.0 1550.0 816.0 1551.0 816.0 1552.0 816.0 1553.0 816.0 1554.0 816.0 1555.0 816.0 1556.0 816.0 1557.0 816.0 1558.0 816.0 1559.0 816.0 1560.0 816.0 1561.0 816.0 1562.0 816.0 1563.0 816.0 1564.0 816.0 1565.0 816.0 1566.0 816.0 1567.0 816.0 1568.0 816.0 1569.0 816.0 1570.0 816.0 1571.0 816.0 1572.0 816.0 1573.0 816.0 1574.0 816.0 1575.0 816.0 1576.0 816.0 1577.0 816.0 1578.0 816.0 1579.0 816.0 1580.0 816.0 1581.0 816.0 1582.0 815.8 1583.0 815.6 1584.0 815.4 1585.0 815.1 1586.0 814.7 1587.0 814.2 1588.0 813.8 1589.0 813.2 1590.0 812.7 1591.0 812.1 1592.0 811.4 1593.0 810.8 1594.0 810.1 1595.0 809.4 1596.0 808.7 1597.0 808.1 1598.0 807.4 1599.0 806.7 1600.0 806.0 1601.0 805.3 1602.0 804.5 1603.0 803.7 1604.0 802.9 1605.0 802.0 1606.0 801.0 1607.0 800.0 1608.0 799.0 1609.0 798.0 1610.0 796.9 1611.0 795.8 1612.0 794.7 1613.0 793.5 1614.0 792.4 1615.0 791.2 1616.0 790.1 1617.0 788.9 1618.0 787.7 1619.0 786.6 1620.0 785.4 1621.0 784.3 1622.0 783.2 1623.0 782.1 1624.0 781.0 1625.0 780.0 1626.0 778.9 1627.0 777.7 1628.0 776.5 1629.0 775.2 1630.0 773.8 1631.0 772.5 1632.0 771.2 1633.0 770.0 1634.0 768.8 1635.0 767.8 1636.0 766.8 1637.0 766.1 1638.0 765.5 1639.0 765.1 1640.0 765.0 1641.0 765.0 1642.0 765.2 1643.0 765.3 1644.0 765.6 1645.0 765.9 1646.0 766.3 1647.0 766.6 1648.0 767.1 1649.0 767.5 1650.0 768.0 1651.0 768.6 1652.0 769.5 1653.0 770.7 1654.0 772.0 1655.0 773.4 1656.0 774.8 1657.0 776.3 1658.0 777.6 1659.0 778.9 1660.0 780.0 1661.0 781.0 1662.0 782.1 1663.0 783.2 1664.0 784.4 1665.0 785.4 1666.0 786.5 1667.0 787.4 1668.0 788.3 1669.0 789.0 1670.0 789.5 1671.0 789.9 1672.0 790.0 1673.0 789.9 1674.0 789.5 1675.0 789.0 1676.0 788.3 1677.0 787.4 1678.0 786.5 1679.0 785.5 1680.0 784.4 1681.0 783.4 1682.0 782.4 1683.0 781.5 1684.0 780.7 1685.0 780.0 1686.0 779.4 1687.0 778.7 1688.0 778.0 1689.0 777.4 1690.0 776.7 1691.0 776.2 1692.0 775.7 1693.0 775.3 1694.0 775.1 1695.0 775.0 1696.0 775.2 1697.0 775.7 1698.0 776.5 1699.0 777.6 1700.0 778.8 1701.0 780.0 1702.0 781.4 1703.0 782.7 1704.0 783.9 1705.0 785.0 1706.0 786.0 1707.0 787.1 1708.0 788.2 1709.0 789.3 1710.0 790.5 1711.0 791.7 1712.0 792.9 1713.0 794.1 1714.0 795.3 1715.0 796.4 1716.0 797.6 1717.0 798.8 1718.0 799.9 1719.0 801.0 1720.0 802.0 1721.0 803.0 1722.0 803.9 1723.0 804.8 1724.0 805.6 1725.0 806.3 1726.0 807.0 1727.0 807.5 1728.0 808.0 1729.0 808.4 1730.0 808.8 1731.0 809.2 1732.0 809.6 1733.0 810.0 1734.0 810.4 1735.0 810.7 1736.0 811.1 1737.0 811.5 1738.0 811.8 1739.0 812.1 1740.0 812.5 1741.0 812.8 1742.0 813.1 1743.0 813.4 1744.0 813.7 1745.0 813.9 1746.0 814.2 1747.0 814.4 1748.0 814.6 1749.0 814.8 1750.0 815.0 1751.0 815.2 1752.0 815.4 1753.0 815.5 1754.0 815.6 1755.0 815.7 1756.0 815.8 1757.0 815.9 1758.0 816.0 1759.0 816.0 1760.0 816.0 1761.0 816.0 1762.0 816.0 1763.0 816.0 1764.0 816.0 1765.0 816.0 1766.0 816.0 1767.0 816.0 1768.0 816.0 1769.0 816.0 1770.0 816.0 1771.0 816.0 1772.0 816.0 1773.0 816.0 1774.0 816.0 1775.0 816.0 1776.0 816.0 1777.0 816.0 1778.0 816.0 1779.0 816.0 1780.0 816.0 1781.0 816.0 1782.0 816.0 1783.0 816.0 1784.0 816.0 1785.0 816.0 1786.0 816.0 1787.0 816.0 1788.0 816.0 1789.0 816.0 1790.0 816.0 1791.0 816.0 1792.0 816.0 1793.0 816.0 1794.0 816.0 1795.0 816.0 1796.0 816.0 1797.0 816.0 1798.0 816.0 1799.0 816.0 1800.0 816.0 1801.0 816.0 1802.0 816.0 1803.0 816.0 1804.0 816.0 1805.0 816.0 1806.0 816.0 1807.0 816.0 1808.0 816.0" fill="none" stroke="#5454d4" stroke-width="2.8" stroke-linejoin="round" opacity="1"/>
</g>
<g clip-path="url(#plot)" filter="url(#soft)"><path d="M160.0 757.3V781.1 M167.2 759.0V741.0 M172.8 760.9V785.6 M179.1 764.1V739.4 M183.8 767.2V744.5 M187.0 770.6V754.5 M193.4 776.5V749.2 M196.0 777.8V761.0 M200.6 779.1V752.9 M207.4 780.3V759.0 M210.2 780.8V800.6 M217.0 781.7V806.4 M221.9 782.2V762.9 M224.8 782.5V764.1 M229.7 782.9V805.9 M235.2 783.5V802.1 M240.0 783.9V756.5 M247.6 784.9V807.2 M250.9 785.2V764.8 M258.3 786.1V759.2 M264.6 786.9V805.6 M272.3 787.7V765.4 M277.6 788.2V767.7 M282.6 788.6V770.0 M287.2 788.9V814.2 M290.9 789.0V807.9 M294.9 789.2V809.9 M299.0 789.3V773.6 M303.1 789.4V772.5 M310.4 789.6V810.1 M313.8 789.7V764.1 M319.2 789.8V770.2 M322.6 789.8V816.9 M329.0 790.0V812.4 M332.7 790.1V769.2 M335.3 790.1V808.4 M341.7 790.3V809.1 M348.3 790.4V817.9 M351.9 790.5V767.4 M354.8 790.6V816.2 M359.1 790.7V814.9 M361.8 790.7V817.8 M368.7 790.9V808.1 M372.9 790.9V772.7 M376.0 790.9V764.2 M383.1 791.0V774.6 M387.1 791.0V810.9 M391.0 791.0V773.3 M396.8 790.9V766.7 M400.5 790.9V767.1 M406.8 790.8V812.0 M411.3 790.7V807.7 M418.5 790.6V774.0 M423.2 790.5V812.2 M428.8 790.3V810.2 M434.1 790.2V770.9 M439.0 790.0V809.1 M444.6 789.8V815.3 M451.8 789.5V813.5 M458.8 789.0V768.1 M463.9 788.5V809.7 M466.6 788.2V767.7 M469.7 787.8V804.3 M477.0 785.5V765.4 M481.4 783.5V803.1 M488.2 778.8V798.1 M492.9 774.2V792.2 M497.0 768.7V736.2 M500.5 763.7V794.8 M504.6 757.2V711.0 M613.6 690.4V643.9 M616.8 695.7V660.1 M620.2 700.4V654.7 M624.6 704.9V673.0 M630.1 707.8V733.1 M633.2 708.8V739.9 M639.3 710.0V729.4 M646.1 706.8V676.4 M650.1 705.0V678.9 M653.2 705.4V671.3 M656.5 706.5V666.9 M664.3 720.2V676.3 M667.9 728.9V792.7 M673.9 741.5V676.6 M677.7 749.6V787.2 M682.0 757.2V808.0 M685.1 761.7V802.7 M691.1 769.7V711.6 M696.7 776.7V735.2 M699.5 779.7V731.4 M703.7 785.0V827.3 M709.6 791.5V820.4 M713.5 795.7V829.1 M719.5 801.5V821.9 M727.1 805.2V776.4 M732.0 806.7V831.6 M737.6 807.0V822.9 M744.1 807.0V790.7 M750.0 807.0V782.4 M757.1 807.0V786.6 M762.9 807.0V787.7 M769.6 807.0V828.0 M774.7 807.0V827.2 M779.8 807.0V781.9 M785.0 807.0V783.2 M791.1 807.0V827.7 M798.9 807.0V788.4 M803.4 807.0V825.2 M806.5 807.0V833.4 M809.5 807.0V832.4 M815.5 807.0V825.8 M821.7 807.0V784.7 M827.4 807.0V789.1 M832.1 807.0V831.8 M839.2 807.0V779.9 M844.9 807.0V784.4 M851.9 807.0V824.3 M859.2 807.0V790.4 M864.5 807.0V787.5 M868.3 807.0V787.9 M872.0 807.0V830.6 M878.0 807.0V828.8 M883.1 807.0V783.0 M887.3 807.0V823.0 M893.0 807.0V787.9 M899.0 807.0V831.1 M903.0 807.0V829.2 M907.9 807.0V823.4 M911.0 807.0V790.5 M914.8 807.0V829.0 M920.3 807.0V791.0 M923.7 807.0V833.5 M927.3 807.0V824.2 M933.2 807.0V831.5 M938.9 807.0V785.4 M944.7 801.9V766.0 M1024.0 747.1V693.4 M1031.5 759.3V727.1 M1037.4 766.2V793.1 M1044.4 769.2V792.4 M1049.9 770.5V748.8 M1056.8 771.5V799.6 M1061.6 772.2V790.6 M1067.7 773.0V745.2 M1075.1 773.9V746.5 M1079.7 774.3V749.0 M1084.4 774.8V799.2 M1090.5 775.3V802.8 M1097.0 775.8V800.0 M1103.7 776.2V800.8 M1107.2 776.5V753.2 M1113.6 776.8V748.4 M1116.3 776.9V759.4 M1122.9 776.6V751.2 M1125.4 775.4V750.9 M1128.8 773.1V801.8 M1134.5 767.7V807.6 M1138.2 761.6V703.4 M1141.9 756.3V801.9 M1147.7 747.0V803.4 M1153.1 737.6V798.5 M1225.4 751.3V809.9 M1229.3 758.6V696.4 M1234.8 765.5V809.0 M1240.3 765.2V743.7 M1244.1 764.1V741.2 M1247.4 764.5V737.3 M1250.9 766.8V744.4 M1253.6 769.3V801.3 M1257.7 773.9V797.5 M1263.7 782.0V759.5 M1269.1 788.4V815.3 M1273.1 793.0V820.2 M1278.3 798.6V826.3 M1284.0 804.1V832.3 M1287.9 806.3V777.2 M1294.6 809.2V783.3 M1301.6 811.5V786.0 M1306.7 813.3V793.4 M1312.2 815.1V833.5 M1317.5 816.5V793.4 M1323.7 817.5V801.9 M1327.1 818.1V835.4 M1331.5 818.7V801.4 M1334.6 819.0V795.6 M1340.4 819.6V841.9 M1344.4 819.8V837.3 M1350.4 820.0V834.0 M1354.6 820.0V797.9 M1361.1 819.8V833.8 M1367.4 819.6V843.3 M1372.2 819.4V841.7 M1375.7 819.3V801.7 M1382.1 818.9V833.2 M1388.7 818.6V841.2 M1396.4 818.2V836.6 M1401.8 817.9V799.5 M1405.4 817.8V840.3 M1412.6 817.5V795.4 M1415.2 817.4V838.0 M1418.3 817.3V836.9 M1425.9 817.0V837.6 M1432.7 816.6V796.2 M1440.6 815.9V834.4 M1444.8 815.2V791.3 M1452.1 812.6V790.8 M1458.4 810.0V788.1 M1462.3 807.9V829.1 M1466.2 805.4V783.3 M1474.1 800.6V817.1 M1477.0 799.1V818.4 M1482.4 797.0V812.6 M1485.7 796.7V775.1 M1490.7 796.3V781.8 M1495.5 796.1V817.8 M1500.4 796.0V777.8 M1503.9 796.1V772.0 M1511.3 796.7V775.5 M1514.1 797.1V783.3 M1520.1 798.0V781.7 M1524.8 799.3V781.9 M1530.3 801.5V783.7 M1535.9 803.1V823.7 M1538.5 803.5V779.9 M1542.2 804.0V824.4 M1546.5 804.6V827.0 M1553.2 805.0V824.6 M1555.8 805.0V790.2 M1558.5 804.8V828.3 M1565.2 803.6V783.4 M1570.0 802.5V822.0 M1573.2 801.8V786.0 M1581.2 799.8V818.9 M1588.5 797.0V776.8 M1595.0 792.0V769.4 M1599.4 788.8V765.8 M1603.4 785.7V803.9 M1609.9 780.3V749.7 M1617.2 774.2V755.3 M1623.0 770.2V788.7 M1627.9 766.2V797.8 M1632.8 762.6V783.4 M1637.0 760.6V779.7 M1644.4 760.0V788.9 M1650.3 760.0V782.2 M1657.8 760.0V737.2 M1663.2 760.0V789.8 M1669.4 760.0V783.4 M1676.4 760.0V790.1 M1679.4 760.0V780.7 M1685.0 760.0V781.8 M1691.8 762.8V789.7 M1694.5 766.2V791.9 M1701.1 775.0V750.7 M1707.2 782.3V761.0 M1712.6 789.4V760.1 M1716.7 794.7V773.0 M1720.0 798.4V773.6 M1725.6 803.8V776.4 M1728.9 805.2V824.7 M1733.5 806.5V783.5 M1736.8 807.3V826.8 M1743.4 808.5V789.4 M1746.0 808.8V835.3 M1748.7 809.0V790.1 M1751.8 809.0V788.6 M1757.8 809.0V792.4 M1764.2 809.0V836.2 M1769.3 809.0V782.5 M1774.4 809.0V827.6 M1778.8 809.0V792.8 M1782.0 809.0V788.0 M1787.3 809.0V787.0 M1794.4 809.0V829.6 M1798.3 809.0V786.5 M1803.3 809.0V830.2" fill="none" stroke="#444" stroke-width="3.6" opacity="0.8"/></g>
<g clip-path="url(#plot)" filter="url(#soft)"><path d="M980.0 564.7 980.5 543.8 981.0 524.5 981.5 517.0 982.0 502.7 982.5 483.9 983.0 477.1 983.5 459.2 984.0 449.8 M995.5 464.0 996.0 478.4 996.5 479.5 997.0 488.8 997.5 498.6 998.0 511.3 998.5 519.3 999.0 521.5 999.5 536.6 1000.0 547.7 1000.5 543.9 1001.0 553.9" fill="none" stroke="#777" stroke-width="3.4" stroke-linejoin="round"/></g>
<g clip-path="url(#plot)"><path d="M158.0 771.2 158.5 753.5 159.0 773.8 159.5 747.7 160.0 770.1 160.5 752.1 161.0 764.9 161.5 752.6 162.0 746.4 162.5 746.0 163.0 758.7 163.5 757.7 164.0 761.5 164.5 759.0 165.0 766.5 165.5 754.9 166.0 760.9 166.5 760.8 167.0 769.5 167.5 753.2 168.0 755.6 168.5 756.8 169.0 753.8 169.5 751.5 170.0 768.3 170.5 768.9 171.0 767.5 171.5 757.0 172.0 752.4 172.5 750.9 173.0 773.9 173.5 763.7 174.0 762.0 174.5 764.8 175.0 764.2 175.5 763.3 176.0 759.7 176.5 773.4 177.0 764.8 177.5 764.5 178.0 753.1 178.5 753.8 179.0 756.5 179.5 751.6 180.0 759.7 180.5 756.0 181.0 757.5 181.5 757.5 182.0 776.6 182.5 773.7 183.0 768.0 183.5 775.0 184.0 779.6 184.5 769.6 185.0 771.5 185.5 779.8 186.0 764.0 186.5 776.6 187.0 784.2 187.5 782.7 188.0 763.1 188.5 763.9 189.0 763.8 189.5 763.8 190.0 768.2 190.5 787.9 191.0 767.0 191.5 782.7 192.0 786.0 192.5 780.1 193.0 783.2 193.5 791.2 194.0 771.1 194.5 766.7 195.0 781.1 195.5 778.5 196.0 773.2 196.5 788.7 197.0 780.2 197.5 784.7 198.0 784.9 198.5 771.5 199.0 769.7 199.5 768.2 200.0 770.9 200.5 770.6 201.0 766.4 201.5 767.9 202.0 775.9 202.5 780.3 203.0 787.7 203.5 783.3 204.0 778.0 204.5 791.2 205.0 780.6 205.5 772.2 206.0 787.1 206.5 783.2 207.0 771.2 207.5 772.0 208.0 772.7 208.5 794.4 209.0 779.3 209.5 784.0 210.0 778.4 210.5 779.9 211.0 793.5 211.5 790.8 212.0 786.9 212.5 792.3 213.0 774.5 213.5 796.2 214.0 790.9 214.5 773.5 215.0 771.2 215.5 783.1 216.0 780.0 216.5 777.7 217.0 774.5 217.5 786.2 218.0 778.5 218.5 779.3 219.0 786.4 219.5 772.5 220.0 783.4 220.5 778.6 221.0 786.0 221.5 781.0 222.0 787.9 222.5 773.7 223.0 793.9 223.5 796.1 224.0 795.6 224.5 777.4 225.0 785.1 225.5 780.2 226.0 790.3 226.5 771.7 227.0 771.1 227.5 781.1 228.0 792.0 228.5 791.1 229.0 781.5 229.5 789.9 230.0 789.3 230.5 779.2 231.0 789.3 231.5 773.6 232.0 775.1 232.5 777.6 233.0 783.3 233.5 789.0 234.0 787.7 234.5 788.0 235.0 793.5 235.5 782.2 236.0 770.6 236.5 790.8 237.0 783.6 237.5 770.1 238.0 776.2 238.5 778.2 239.0 782.7 239.5 787.4 240.0 776.9 240.5 785.6 241.0 778.4 241.5 787.1 242.0 790.9 242.5 795.3 243.0 794.8 243.5 781.4 244.0 786.3 244.5 784.8 245.0 790.6 245.5 786.6 246.0 774.4 246.5 777.0 247.0 795.4 247.5 781.6 248.0 788.7 248.5 783.3 249.0 778.4 249.5 781.0 250.0 783.2 250.5 771.6 251.0 794.4 251.5 768.7 252.0 773.5 252.5 787.0 253.0 776.3 253.5 784.3 254.0 772.1 254.5 784.5 255.0 776.2 255.5 779.7 256.0 788.3 256.5 787.5 257.0 785.4 257.5 781.7 258.0 776.3 258.5 789.0 259.0 792.1 259.5 773.6 260.0 791.4 260.5 797.4 261.0 774.9 261.5 775.4 262.0 794.5 262.5 792.0 263.0 791.8 263.5 795.7 264.0 776.4 264.5 772.7 265.0 777.3 265.5 789.8 266.0 781.1 266.5 795.3 267.0 774.1 267.5 786.2 268.0 790.2 268.5 773.1 269.0 785.8 269.5 786.8 270.0 789.7 270.5 795.9 271.0 791.9 271.5 782.5 272.0 781.9 272.5 780.3 273.0 782.3 273.5 794.8 274.0 796.1 274.5 775.6 275.0 790.5 275.5 789.1 276.0 786.2 276.5 780.3 277.0 795.3 277.5 777.0 278.0 788.6 278.5 779.6 279.0 789.2 279.5 788.8 280.0 777.1 280.5 781.5 281.0 790.8 281.5 795.4 282.0 797.6 282.5 787.9 283.0 795.0 283.5 799.9 284.0 798.0 284.5 801.1 285.0 801.7 285.5 791.2 286.0 796.3 286.5 786.3 287.0 790.9 287.5 784.9 288.0 791.4 288.5 789.3 289.0 793.6 289.5 799.8 290.0 799.9 290.5 791.1 291.0 794.6 291.5 788.0 292.0 796.5 292.5 785.5 293.0 787.7 293.5 800.1 294.0 780.7 294.5 783.9 295.0 791.1 295.5 797.2 296.0 788.4 296.5 791.6 297.0 798.6 297.5 798.3 298.0 777.8 298.5 790.7 299.0 792.8 299.5 781.9 300.0 798.2 300.5 788.8 301.0 784.1 301.5 800.3 302.0 800.4 302.5 789.6 303.0 796.0 303.5 796.7 304.0 793.9 304.5 779.5 305.0 791.8 305.5 788.5 306.0 784.2 306.5 775.9 307.0 791.9 307.5 775.2 308.0 776.2 308.5 783.8 309.0 780.1 309.5 796.4 310.0 800.3 310.5 791.6 311.0 777.6 311.5 792.8 312.0 799.3 312.5 796.0 313.0 787.4 313.5 797.0 314.0 784.8 314.5 786.4 315.0 789.9 315.5 779.3 316.0 784.0 316.5 792.6 317.0 777.5 317.5 787.6 318.0 792.5 318.5 791.3 319.0 790.2 319.5 780.7 320.0 788.9 320.5 793.0 321.0 788.4 321.5 776.8 322.0 778.1 322.5 797.3 323.0 796.9 323.5 788.8 324.0 794.3 324.5 785.1 325.0 800.4 325.5 796.0 326.0 794.6 326.5 782.6 327.0 791.1 327.5 798.5 328.0 782.1 328.5 787.3 329.0 794.2 329.5 783.0 330.0 789.9 330.5 783.3 331.0 798.9 331.5 785.5 332.0 777.0 332.5 783.3 333.0 797.6 333.5 786.3 334.0 792.3 334.5 789.2 335.0 799.2 335.5 780.6 336.0 798.0 336.5 803.5 337.0 783.2 337.5 784.1 338.0 796.1 338.5 786.1 339.0 799.3 339.5 786.8 340.0 799.9 340.5 800.1 341.0 782.5 341.5 787.3 342.0 792.7 342.5 793.2 343.0 779.2 343.5 798.9 344.0 798.4 344.5 785.9 345.0 792.3 345.5 787.5 346.0 798.9 346.5 781.4 347.0 796.0 347.5 779.2 348.0 781.7 348.5 786.7 349.0 801.1 349.5 782.8 350.0 792.2 350.5 800.6 351.0 787.0 351.5 779.5 352.0 777.2 352.5 792.9 353.0 778.7 353.5 799.5 354.0 784.2 354.5 804.6 355.0 798.4 355.5 793.1 356.0 795.5 356.5 786.3 357.0 797.1 357.5 785.1 358.0 793.6 358.5 781.7 359.0 801.4 359.5 787.2 360.0 794.9 360.5 798.1 361.0 795.7 361.5 800.2 362.0 789.7 362.5 787.5 363.0 778.3 363.5 792.3 364.0 785.1 364.5 786.2 365.0 792.5 365.5 783.8 366.0 773.5 366.5 792.2 367.0 792.0 367.5 782.7 368.0 793.7 368.5 781.4 369.0 778.2 369.5 791.3 370.0 780.3 370.5 781.5 371.0 775.3 371.5 777.8 372.0 778.6 372.5 786.8 373.0 775.2 373.5 783.5 374.0 783.9 374.5 788.3 375.0 794.8 375.5 771.6 376.0 789.1 376.5 795.1 377.0 776.5 377.5 776.0 378.0 792.6 378.5 795.2 379.0 798.6 379.5 781.0 380.0 793.3 380.5 789.6 381.0 798.6 381.5 784.0 382.0 779.7 382.5 784.0 383.0 794.0 383.5 792.3 384.0 803.8 384.5 799.7 385.0 798.8 385.5 787.1 386.0 790.3 386.5 789.1 387.0 787.6 387.5 779.0 388.0 799.5 388.5 799.5 389.0 787.6 389.5 795.4 390.0 782.2 390.5 788.5 391.0 786.2 391.5 800.1 392.0 792.9 392.5 793.6 393.0 790.5 393.5 789.8 394.0 791.0 394.5 780.5 395.0 796.5 395.5 781.5 396.0 783.0 396.5 789.0 397.0 780.0 397.5 788.7 398.0 778.5 398.5 780.8 399.0 790.3 399.5 783.1 400.0 795.3 400.5 803.6 401.0 802.0 401.5 787.2 402.0 790.8 402.5 791.8 403.0 787.6 403.5 802.7 404.0 783.6 404.5 785.5 405.0 790.7 405.5 789.0 406.0 803.8 406.5 800.8 407.0 794.5 407.5 804.7 408.0 801.5 408.5 788.2 409.0 789.7 409.5 797.7 410.0 797.6 410.5 795.4 411.0 779.3 411.5 784.0 412.0 792.5 412.5 784.0 413.0 791.2 413.5 801.7 414.0 797.0 414.5 783.6 415.0 790.3 415.5 781.8 416.0 797.6 416.5 800.5 417.0 795.2 417.5 800.0 418.0 790.2 418.5 798.5 419.0 785.6 419.5 785.5 420.0 788.3 420.5 800.0 421.0 782.7 421.5 796.9 422.0 797.9 422.5 779.4 423.0 791.0 423.5 788.8 424.0 794.0 424.5 782.6 425.0 787.8 425.5 799.0 426.0 800.8 426.5 797.8 427.0 792.3 427.5 797.9 428.0 798.5 428.5 795.5 429.0 787.0 429.5 788.7 430.0 792.8 430.5 807.6 431.0 800.8 431.5 799.7 432.0 787.7 432.5 805.0 433.0 782.4 433.5 803.9 434.0 802.2 434.5 793.5 435.0 791.8 435.5 790.0 436.0 793.1 436.5 799.6 437.0 790.6 437.5 792.7 438.0 802.6 438.5 801.7 439.0 789.1 439.5 800.0 440.0 796.8 440.5 792.8 441.0 781.8 441.5 790.2 442.0 800.8 442.5 789.5 443.0 779.7 443.5 786.5 444.0 790.2 444.5 787.5 445.0 778.0 445.5 796.3 446.0 783.1 446.5 799.7 447.0 793.3 447.5 788.9 448.0 785.9 448.5 800.8 449.0 783.2 449.5 779.0 450.0 802.5 450.5 780.4 451.0 801.2 451.5 801.3 452.0 785.7 452.5 800.1 453.0 782.6 453.5 805.3 454.0 781.8 454.5 800.9 455.0 797.3 455.5 795.4 456.0 799.2 456.5 792.2 457.0 784.4 457.5 791.3 458.0 789.1 458.5 781.1 459.0 795.1 459.5 800.5 460.0 780.0 460.5 800.3 461.0 785.4 461.5 780.5 462.0 800.6 462.5 790.3 463.0 784.6 463.5 781.4 464.0 778.1 464.5 789.1 465.0 781.0 465.5 780.1 466.0 790.8 466.5 798.7 467.0 778.1 467.5 783.0 468.0 785.7 468.5 784.7 469.0 789.8 469.5 801.2 470.0 785.9 470.5 780.8 471.0 797.4 471.5 785.7 472.0 789.0 472.5 794.1 473.0 793.8 473.5 790.0 474.0 789.2 474.5 790.8 475.0 779.8 475.5 789.8 476.0 779.3 476.5 793.0 477.0 794.3 477.5 780.9 478.0 779.5 478.5 774.5 479.0 784.4 479.5 788.1 480.0 782.1 480.5 776.9 481.0 772.0 481.5 789.6 482.0 784.2 482.5 773.0 483.0 780.0 483.5 771.0 484.0 790.0 484.5 765.1 485.0 789.8 485.5 777.5 486.0 787.1 486.5 782.3 487.0 767.1 487.5 778.4 488.0 786.9 488.5 784.3 489.0 784.0 489.5 788.8 490.0 777.6 490.5 786.4 491.0 770.3 491.5 773.0 492.0 785.7 492.5 777.0 493.0 766.9 493.5 775.9 494.0 764.9 494.5 768.7 495.0 783.3 495.5 768.1 496.0 762.3 496.5 781.5 497.0 762.2 497.5 759.2 498.0 762.5 498.5 769.2 499.0 760.6 499.5 765.1 500.0 744.3 500.5 781.6 501.0 747.8 501.5 782.4 502.0 749.5 502.5 767.4 503.0 748.4 503.5 762.0 504.0 777.9 504.5 737.7 505.0 760.2 505.5 765.0 506.0 731.8 506.5 762.1 507.0 734.1 507.5 734.2 508.0 759.1 508.5 764.5 509.0 734.9 509.5 761.0 510.0 734.8 510.5 714.2 511.0 725.5 511.5 733.2 512.0 733.5 512.5 719.8 513.0 727.7 513.5 699.1 514.0 697.1 514.5 701.0 515.0 701.0 515.5 704.5 516.0 710.0 516.5 667.2 517.0 706.2 517.5 652.2 518.0 668.7 518.5 647.9 519.0 674.1 519.5 669.5 520.0 675.7 520.5 644.1 521.0 608.6 521.5 652.3 522.0 655.6 522.5 595.6 523.0 653.3 523.5 567.1 524.0 611.0 524.5 575.9 525.0 577.0 525.5 566.4 526.0 597.2 526.5 551.5 527.0 620.4 527.5 624.0 528.0 595.3 528.5 563.3 529.0 550.8 529.5 555.4 530.0 570.8 530.5 598.9 531.0 569.8 531.5 546.5 532.0 524.6 532.5 537.8 533.0 586.7 533.5 575.4 534.0 557.5 534.5 596.2 535.0 557.8 535.5 566.4 536.0 561.2 536.5 545.8 537.0 505.2 537.5 504.3 538.0 511.5 538.5 562.2 539.0 542.1 539.5 540.8 540.0 523.6 540.5 521.3 541.0 487.4 541.5 490.6 542.0 521.1 542.5 496.4 543.0 508.0 543.5 474.3 544.0 489.0 544.5 464.9 545.0 463.1 545.5 459.9 546.0 447.2 546.5 452.4 547.0 454.9 547.5 441.6 548.0 438.7 548.5 454.1 549.0 424.2 549.5 445.0 550.0 427.2 550.5 419.7 551.0 406.2 551.5 404.6 552.0 389.1 552.5 384.5 553.0 354.2 553.5 331.5 554.0 326.2 554.5 325.6 555.0 315.8 555.5 319.7 556.0 297.9 556.5 312.3 557.0 303.9 557.5 294.1 558.0 285.2 558.5 297.1 559.0 287.8 559.5 281.2 560.0 282.9 560.5 284.1 561.0 275.1 561.5 285.5 562.0 294.3 562.5 280.2 563.0 282.1 563.5 286.6 564.0 294.3 564.5 292.8 565.0 277.4 565.5 296.9 566.0 294.9 566.5 288.0 567.0 290.5 567.5 279.2 568.0 286.4 568.5 297.5 569.0 292.8 569.5 300.0 570.0 301.3 570.5 313.0 571.0 301.4 571.5 305.4 572.0 307.8 572.5 316.3 573.0 324.0 573.5 360.5 574.0 380.3 574.5 392.2 575.0 408.0 575.5 420.7 576.0 426.8 576.5 424.1 577.0 438.7 577.5 442.2 578.0 464.8 578.5 464.0 579.0 459.5 579.5 472.6 580.0 480.4 580.5 477.9 581.0 504.8 581.5 497.2 582.0 514.0 582.5 495.8 583.0 531.5 583.5 501.2 584.0 560.6 584.5 560.1 585.0 570.7 585.5 543.0 586.0 524.0 586.5 528.8 587.0 598.8 587.5 564.8 588.0 566.9 588.5 555.8 589.0 621.1 589.5 582.5 590.0 629.3 590.5 591.7 591.0 634.4 591.5 612.7 592.0 550.0 592.5 575.0 593.0 555.5 593.5 634.6 594.0 573.2 594.5 571.7 595.0 604.6 595.5 605.9 596.0 593.8 596.5 584.5 597.0 635.4 597.5 616.5 598.0 638.9 598.5 589.0 599.0 601.7 599.5 663.6 600.0 617.6 600.5 693.9 601.0 668.7 601.5 616.2 602.0 657.2 602.5 655.1 603.0 632.6 603.5 679.6 604.0 713.3 604.5 695.5 605.0 647.3 605.5 677.2 606.0 657.6 606.5 668.6 607.0 672.0 607.5 718.5 608.0 684.0 608.5 693.6 609.0 712.3 609.5 655.2 610.0 657.7 610.5 704.2 611.0 685.2 611.5 649.3 612.0 725.6 612.5 654.6 613.0 717.8 613.5 717.9 614.0 688.5 614.5 689.3 615.0 662.9 615.5 701.9 616.0 701.8 616.5 693.4 617.0 720.6 617.5 675.8 618.0 716.3 618.5 703.6 619.0 700.7 619.5 726.8 620.0 692.1 620.5 701.5 621.0 727.1 621.5 695.4 622.0 685.4 622.5 705.4 623.0 696.7 623.5 718.5 624.0 708.7 624.5 690.0 625.0 704.0 625.5 700.6 626.0 687.4 626.5 703.5 627.0 724.5 627.5 723.1 628.0 711.9 628.5 689.4 629.0 712.5 629.5 708.7 630.0 692.0 630.5 706.8 631.0 715.0 631.5 722.1 632.0 719.3 632.5 707.7 633.0 711.2 633.5 702.0 634.0 721.4 634.5 699.8 635.0 724.7 635.5 724.6 636.0 703.8 636.5 722.3 637.0 723.9 637.5 708.5 638.0 697.4 638.5 713.4 639.0 712.6 639.5 700.2 640.0 716.4 640.5 708.5 641.0 726.0 641.5 719.2 642.0 710.3 642.5 711.5 643.0 695.9 643.5 702.4 644.0 716.5 644.5 701.0 645.0 709.9 645.5 700.2 646.0 718.9 646.5 705.1 647.0 712.5 647.5 691.1 648.0 702.2 648.5 714.3 649.0 701.4 649.5 712.2 650.0 710.7 650.5 702.8 651.0 707.5 651.5 687.8 652.0 694.1 652.5 694.6 653.0 706.0 653.5 712.7 654.0 699.5 654.5 694.7 655.0 717.6 655.5 707.3 656.0 715.0 656.5 718.9 657.0 711.5 657.5 704.1 658.0 689.4 658.5 700.7 659.0 716.3 659.5 689.7 660.0 738.4 660.5 700.3 661.0 734.4 661.5 712.9 662.0 747.2 662.5 734.4 663.0 742.0 663.5 729.0 664.0 692.0 664.5 713.8 665.0 748.1 665.5 734.5 666.0 741.3 666.5 742.7 667.0 718.5 667.5 731.3 668.0 704.5 668.5 747.1 669.0 758.5 669.5 741.2 670.0 721.5 670.5 753.4 671.0 725.5 671.5 725.9 672.0 724.4 672.5 732.3 673.0 718.8 673.5 765.0 674.0 765.0 674.5 740.5 675.0 718.9 675.5 727.1 676.0 736.3 676.5 732.0 677.0 732.1 677.5 739.4 678.0 738.7 678.5 764.8 679.0 742.7 679.5 775.7 680.0 749.3 680.5 739.0 681.0 765.8 681.5 786.5 682.0 780.2 682.5 731.4 683.0 743.9 683.5 755.8 684.0 785.4 684.5 733.7 685.0 777.1 685.5 746.9 686.0 761.4 686.5 766.8 687.0 782.0 687.5 790.6 688.0 774.1 688.5 770.7 689.0 771.0 689.5 758.8 690.0 762.0 690.5 775.8 691.0 760.4 691.5 796.2 692.0 782.4 692.5 764.7 693.0 755.4 693.5 783.1 694.0 798.4 694.5 754.9 695.0 756.1 695.5 772.3 696.0 790.5 696.5 805.1 697.0 773.1 697.5 779.1 698.0 795.6 698.5 801.9 699.0 751.0 699.5 789.3 700.0 783.3 700.5 796.4 701.0 804.4 701.5 793.0 702.0 807.8 702.5 783.8 703.0 790.3 703.5 789.1 704.0 787.2 704.5 780.3 705.0 794.9 705.5 806.8 706.0 790.0 706.5 804.0 707.0 781.1 707.5 799.9 708.0 784.4 708.5 787.8 709.0 812.0 709.5 776.2 710.0 803.5 710.5 807.7 711.0 798.6 711.5 807.7 712.0 787.9 712.5 807.5 713.0 800.0 713.5 807.1 714.0 803.7 714.5 798.5 715.0 801.3 715.5 789.1 716.0 812.4 716.5 802.5 717.0 813.6 717.5 786.3 718.0 788.1 718.5 791.3 719.0 809.3 719.5 807.0 720.0 801.3 720.5 794.3 721.0 804.6 721.5 792.9 722.0 807.5 722.5 796.6 723.0 809.9 723.5 804.2 724.0 799.7 724.5 797.7 725.0 793.1 725.5 792.0 726.0 801.0 726.5 800.3 727.0 810.7 727.5 794.5 728.0 812.1 728.5 816.6 729.0 798.5 729.5 815.4 730.0 807.4 730.5 808.4 731.0 809.1 731.5 817.0 732.0 793.2 732.5 814.7 733.0 805.8 733.5 813.9 734.0 800.5 734.5 806.8 735.0 797.4 735.5 792.5 736.0 793.0 736.5 807.2 737.0 803.7 737.5 800.4 738.0 804.5 738.5 812.5 739.0 814.6 739.5 815.6 740.0 801.2 740.5 796.9 741.0 798.7 741.5 814.0 742.0 815.4 742.5 807.9 743.0 814.6 743.5 819.6 744.0 815.4 744.5 797.5 745.0 810.9 745.5 810.2 746.0 815.9 746.5 815.3 747.0 810.6 747.5 810.8 748.0 800.4 748.5 812.1 749.0 818.5 749.5 803.5 750.0 805.2 750.5 803.6 751.0 794.8 751.5 812.0 752.0 813.1 752.5 799.2 753.0 791.5 753.5 797.5 754.0 789.1 754.5 799.9 755.0 801.2 755.5 811.6 756.0 796.1 756.5 797.8 757.0 796.5 757.5 810.8 758.0 794.3 758.5 814.5 759.0 812.1 759.5 814.0 760.0 806.7 760.5 818.3 761.0 796.6 761.5 806.7 762.0 791.8 762.5 815.3 763.0 799.1 763.5 815.2 764.0 806.4 764.5 796.0 765.0 811.1 765.5 795.5 766.0 809.5 766.5 806.0 767.0 807.4 767.5 799.9 768.0 802.5 768.5 807.1 769.0 817.7 769.5 811.0 770.0 814.5 770.5 804.6 771.0 806.8 771.5 800.6 772.0 803.1 772.5 804.6 773.0 803.0 773.5 802.6 774.0 815.4 774.5 808.8 775.0 811.0 775.5 807.0 776.0 793.7 776.5 801.8 777.0 810.4 777.5 809.1 778.0 805.6 778.5 795.8 779.0 807.4 779.5 817.3 780.0 807.6 780.5 795.3 781.0 793.8 781.5 813.4 782.0 804.6 782.5 802.4 783.0 795.7 783.5 812.8 784.0 792.8 784.5 806.1 785.0 806.6 785.5 806.0 786.0 802.8 786.5 810.4 787.0 801.3 787.5 799.3 788.0 806.0 788.5 811.9 789.0 803.7 789.5 801.7 790.0 811.1 790.5 806.1 791.0 802.8 791.5 815.7 792.0 809.1 792.5 814.8 793.0 813.3 793.5 817.9 794.0 810.2 794.5 816.5 795.0 807.8 795.5 805.1 796.0 794.5 796.5 792.6 797.0 792.6 797.5 804.6 798.0 791.6 798.5 813.4 799.0 813.1 799.5 810.8 800.0 800.1 800.5 806.0 801.0 799.7 801.5 813.5 802.0 812.5 802.5 809.8 803.0 804.7 803.5 803.2 804.0 809.4 804.5 820.6 805.0 806.7 805.5 802.3 806.0 797.5 806.5 804.7 807.0 814.0 807.5 810.7 808.0 801.3 808.5 811.2 809.0 812.9 809.5 801.3 810.0 803.1 810.5 815.1 811.0 805.7 811.5 806.8 812.0 806.0 812.5 817.6 813.0 802.0 813.5 796.8 814.0 816.0 814.5 799.8 815.0 813.9 815.5 807.9 816.0 807.6 816.5 795.2 817.0 803.4 817.5 794.3 818.0 796.4 818.5 800.8 819.0 808.4 819.5 794.5 820.0 801.9 820.5 793.0 821.0 805.6 821.5 802.2 822.0 795.2 822.5 791.7 823.0 803.1 823.5 802.3 824.0 810.2 824.5 807.4 825.0 798.6 825.5 812.0 826.0 814.4 826.5 800.2 827.0 801.5 827.5 818.2 828.0 814.7 828.5 817.3 829.0 802.5 829.5 825.2 830.0 815.6 830.5 803.1 831.0 806.7 831.5 815.5 832.0 814.5 832.5 800.9 833.0 820.8 833.5 806.2 834.0 802.8 834.5 817.4 835.0 810.2 835.5 819.7 836.0 812.0 836.5 811.5 837.0 805.9 837.5 808.5 838.0 804.2 838.5 816.3 839.0 814.9 839.5 803.1 840.0 816.2 840.5 798.4 841.0 803.3 841.5 805.6 842.0 803.5 842.5 813.7 843.0 808.5 843.5 793.4 844.0 794.1 844.5 804.1 845.0 793.4 845.5 794.9 846.0 814.1 846.5 817.2 847.0 802.4 847.5 813.2 848.0 798.8 848.5 815.0 849.0 817.7 849.5 818.2 850.0 802.8 850.5 799.8 851.0 808.9 851.5 813.9 852.0 816.5 852.5 815.9 853.0 803.4 853.5 810.1 854.0 803.2 854.5 796.9 855.0 815.3 855.5 796.0 856.0 803.4 856.5 807.8 857.0 796.3 857.5 813.4 858.0 807.3 858.5 815.6 859.0 806.1 859.5 808.5 860.0 796.2 860.5 820.3 861.0 800.3 861.5 814.7 862.0 822.6 862.5 815.9 863.0 804.2 863.5 814.0 864.0 811.7 864.5 811.7 865.0 796.3 865.5 814.4 866.0 801.3 866.5 801.7 867.0 804.7 867.5 793.2 868.0 795.4 868.5 806.7 869.0 800.8 869.5 795.0 870.0 800.0 870.5 814.8 871.0 817.0 871.5 821.5 872.0 822.2 872.5 818.8 873.0 805.9 873.5 818.5 874.0 815.7 874.5 815.4 875.0 812.0 875.5 823.7 876.0 805.0 876.5 819.5 877.0 820.1 877.5 809.7 878.0 801.5 878.5 799.3 879.0 819.7 879.5 803.4 880.0 816.8 880.5 817.5 881.0 811.5 881.5 802.8 882.0 804.7 882.5 798.6 883.0 798.7 883.5 817.6 884.0 817.8 884.5 805.8 885.0 804.5 885.5 815.1 886.0 801.1 886.5 803.7 887.0 810.9 887.5 812.8 888.0 797.9 888.5 806.5 889.0 794.2 889.5 802.8 890.0 801.9 890.5 795.7 891.0 802.8 891.5 799.6 892.0 793.5 892.5 816.9 893.0 806.3 893.5 804.1 894.0 804.5 894.5 807.7 895.0 802.5 895.5 817.8 896.0 797.9 896.5 819.2 897.0 816.9 897.5 802.6 898.0 810.8 898.5 801.2 899.0 803.7 899.5 798.2 900.0 807.1 900.5 802.5 901.0 805.9 901.5 818.3 902.0 808.3 902.5 802.3 903.0 814.0 903.5 815.0 904.0 798.2 904.5 812.7 905.0 815.3 905.5 815.6 906.0 809.8 906.5 814.6 907.0 803.6 907.5 795.9 908.0 810.3 908.5 809.5 909.0 795.1 909.5 803.8 910.0 804.6 910.5 806.1 911.0 796.4 911.5 809.8 912.0 798.4 912.5 802.7 913.0 811.2 913.5 822.1 914.0 804.7 914.5 799.8 915.0 804.4 915.5 799.5 916.0 820.6 916.5 807.1 917.0 814.6 917.5 807.9 918.0 815.7 918.5 803.8 919.0 810.5 919.5 812.6 920.0 809.9 920.5 815.8 921.0 814.6 921.5 805.2 922.0 811.5 922.5 802.2 923.0 817.6 923.5 804.3 924.0 811.8 924.5 815.4 925.0 816.2 925.5 805.9 926.0 814.8 926.5 819.4 927.0 813.4 927.5 804.8 928.0 822.4 928.5 800.6 929.0 805.8 929.5 815.7 930.0 818.3 930.5 813.6 931.0 809.6 931.5 816.6 932.0 796.9 932.5 803.6 933.0 804.0 933.5 806.2 934.0 810.9 934.5 812.0 935.0 820.5 935.5 799.3 936.0 795.4 936.5 813.1 937.0 805.3 937.5 816.2 938.0 811.4 938.5 809.2 939.0 819.3 939.5 806.7 940.0 808.4 940.5 797.5 941.0 818.3 941.5 795.6 942.0 808.7 942.5 809.4 943.0 810.4 943.5 812.1 944.0 788.4 944.5 795.4 945.0 799.0 945.5 780.6 946.0 816.9 946.5 792.1 947.0 816.4 947.5 777.3 948.0 801.2 948.5 779.4 949.0 790.2 949.5 773.3 950.0 808.6 950.5 782.1 951.0 771.8 951.5 756.9 952.0 756.4 952.5 786.7 953.0 768.3 953.5 789.0 954.0 747.1 954.5 789.7 955.0 783.8 955.5 759.9 956.0 740.5 956.5 777.7 957.0 780.9 957.5 768.8 958.0 758.5 958.5 761.5 959.0 757.7 959.5 737.3 960.0 712.5 960.5 708.1 961.0 748.3 961.5 724.8 962.0 730.6 962.5 747.2 963.0 748.3 963.5 712.0 964.0 685.6 964.5 686.9 965.0 731.5 965.5 738.1 966.0 701.2 966.5 696.3 967.0 692.3 967.5 714.9 968.0 709.3 968.5 661.7 969.0 709.3 969.5 700.5 970.0 699.5 970.5 666.8 971.0 675.0 971.5 651.0 972.0 700.7 972.5 680.7 973.0 649.1 973.5 654.5 974.0 640.9 974.5 652.0 975.0 648.5 975.5 616.7 976.0 599.3 976.5 593.7 977.0 612.8 977.5 589.5 978.0 584.5 978.5 578.3 979.0 574.3 979.5 562.3 980.0 564.7 M984.0 449.8 984.5 430.3 985.0 418.7 985.5 408.3 986.0 403.3 986.5 394.7 987.0 383.6 987.5 377.4 988.0 371.4 988.5 368.4 989.0 362.5 989.5 363.9 990.0 367.1 990.5 376.4 991.0 386.9 991.5 391.2 992.0 402.0 992.5 405.8 993.0 415.5 993.5 426.2 994.0 442.7 994.5 453.7 995.0 463.8 995.5 464.0 M1001.0 553.9 1001.5 559.2 1002.0 559.3 1002.5 598.4 1003.0 614.3 1003.5 571.6 1004.0 581.6 1004.5 632.8 1005.0 647.5 1005.5 586.7 1006.0 636.1 1006.5 594.0 1007.0 642.2 1007.5 681.2 1008.0 621.7 1008.5 669.3 1009.0 622.0 1009.5 635.0 1010.0 659.3 1010.5 693.4 1011.0 695.8 1011.5 666.8 1012.0 685.7 1012.5 658.0 1013.0 711.7 1013.5 687.1 1014.0 726.7 1014.5 714.2 1015.0 677.7 1015.5 680.6 1016.0 679.5 1016.5 755.2 1017.0 755.5 1017.5 704.6 1018.0 703.0 1018.5 727.2 1019.0 737.4 1019.5 740.7 1020.0 769.7 1020.5 730.5 1021.0 722.7 1021.5 737.2 1022.0 769.6 1022.5 726.3 1023.0 728.2 1023.5 748.6 1024.0 727.9 1024.5 763.1 1025.0 765.9 1025.5 761.7 1026.0 751.0 1026.5 777.7 1027.0 779.0 1027.5 775.0 1028.0 748.4 1028.5 777.0 1029.0 769.7 1029.5 755.4 1030.0 759.2 1030.5 757.8 1031.0 759.8 1031.5 754.3 1032.0 757.1 1032.5 754.0 1033.0 756.4 1033.5 764.8 1034.0 744.6 1034.5 769.6 1035.0 758.0 1035.5 751.2 1036.0 749.8 1036.5 768.8 1037.0 770.0 1037.5 754.5 1038.0 756.3 1038.5 754.3 1039.0 763.2 1039.5 773.7 1040.0 768.6 1040.5 755.2 1041.0 772.6 1041.5 772.0 1042.0 756.1 1042.5 780.7 1043.0 762.9 1043.5 770.5 1044.0 758.9 1044.5 756.2 1045.0 759.7 1045.5 756.6 1046.0 761.7 1046.5 772.0 1047.0 773.2 1047.5 773.1 1048.0 780.3 1048.5 782.0 1049.0 767.3 1049.5 762.8 1050.0 781.8 1050.5 779.7 1051.0 777.1 1051.5 774.1 1052.0 776.0 1052.5 769.4 1053.0 776.4 1053.5 769.3 1054.0 761.5 1054.5 779.0 1055.0 759.1 1055.5 769.6 1056.0 768.1 1056.5 759.6 1057.0 761.9 1057.5 768.5 1058.0 764.3 1058.5 771.2 1059.0 777.6 1059.5 778.9 1060.0 773.0 1060.5 759.1 1061.0 763.1 1061.5 783.1 1062.0 779.3 1062.5 777.4 1063.0 781.7 1063.5 779.3 1064.0 759.0 1064.5 776.4 1065.0 771.5 1065.5 769.9 1066.0 760.1 1066.5 773.9 1067.0 779.8 1067.5 786.8 1068.0 776.2 1068.5 787.6 1069.0 765.7 1069.5 763.9 1070.0 774.0 1070.5 766.7 1071.0 777.9 1071.5 779.6 1072.0 774.7 1072.5 769.0 1073.0 780.3 1073.5 767.9 1074.0 783.9 1074.5 777.9 1075.0 773.4 1075.5 757.9 1076.0 761.1 1076.5 777.0 1077.0 770.0 1077.5 769.9 1078.0 784.1 1078.5 776.5 1079.0 764.0 1079.5 778.1 1080.0 782.4 1080.5 765.6 1081.0 781.0 1081.5 773.5 1082.0 777.4 1082.5 769.9 1083.0 781.6 1083.5 776.0 1084.0 771.9 1084.5 774.3 1085.0 786.5 1085.5 776.3 1086.0 762.0 1086.5 763.2 1087.0 784.6 1087.5 781.3 1088.0 764.6 1088.5 787.7 1089.0 785.1 1089.5 763.3 1090.0 786.9 1090.5 773.2 1091.0 766.1 1091.5 790.0 1092.0 787.9 1092.5 786.8 1093.0 772.5 1093.5 781.4 1094.0 774.2 1094.5 785.5 1095.0 770.5 1095.5 785.6 1096.0 776.8 1096.5 780.0 1097.0 766.7 1097.5 765.5 1098.0 782.4 1098.5 759.6 1099.0 783.0 1099.5 773.1 1100.0 777.1 1100.5 773.4 1101.0 771.3 1101.5 760.6 1102.0 776.9 1102.5 774.9 1103.0 783.8 1103.5 776.7 1104.0 772.5 1104.5 779.5 1105.0 787.5 1105.5 770.7 1106.0 789.3 1106.5 779.9 1107.0 771.6 1107.5 782.7 1108.0 772.3 1108.5 771.9 1109.0 778.6 1109.5 780.0 1110.0 768.4 1110.5 780.1 1111.0 779.6 1111.5 774.9 1112.0 770.6 1112.5 776.2 1113.0 794.0 1113.5 777.6 1114.0 780.1 1114.5 791.0 1115.0 781.7 1115.5 777.7 1116.0 783.1 1116.5 780.9 1117.0 764.5 1117.5 764.1 1118.0 775.8 1118.5 785.4 1119.0 762.2 1119.5 786.0 1120.0 774.7 1120.5 779.0 1121.0 764.9 1121.5 786.0 1122.0 785.2 1122.5 770.0 1123.0 777.4 1123.5 762.7 1124.0 773.2 1124.5 766.9 1125.0 774.2 1125.5 779.5 1126.0 769.2 1126.5 764.8 1127.0 768.5 1127.5 777.0 1128.0 768.2 1128.5 763.0 1129.0 766.0 1129.5 770.3 1130.0 779.4 1130.5 780.9 1131.0 773.0 1131.5 781.3 1132.0 761.0 1132.5 759.8 1133.0 759.0 1133.5 761.5 1134.0 776.2 1134.5 746.1 1135.0 740.2 1135.5 759.4 1136.0 755.6 1136.5 736.0 1137.0 774.9 1137.5 755.1 1138.0 785.2 1138.5 763.3 1139.0 742.8 1139.5 739.4 1140.0 733.4 1140.5 751.5 1141.0 760.1 1141.5 760.9 1142.0 735.9 1142.5 780.1 1143.0 764.0 1143.5 766.4 1144.0 760.3 1144.5 726.0 1145.0 729.7 1145.5 733.6 1146.0 741.7 1146.5 764.0 1147.0 725.5 1147.5 721.5 1148.0 746.2 1148.5 738.4 1149.0 722.3 1149.5 753.7 1150.0 764.5 1150.5 726.0 1151.0 755.6 1151.5 716.3 1152.0 743.3 1152.5 762.7 1153.0 757.3 1153.5 765.0 1154.0 766.3 1154.5 763.5 1155.0 709.7 1155.5 740.6 1156.0 724.3 1156.5 752.6 1157.0 713.9 1157.5 731.7 1158.0 760.0 1158.5 715.4 1159.0 708.2 1159.5 702.6 1160.0 727.5 1160.5 729.4 1161.0 701.4 1161.5 678.3 1162.0 726.4 1162.5 688.3 1163.0 724.6 1163.5 695.0 1164.0 658.9 1164.5 713.7 1165.0 654.0 1165.5 693.0 1166.0 693.1 1166.5 652.6 1167.0 662.4 1167.5 693.3 1168.0 657.0 1168.5 681.3 1169.0 677.7 1169.5 659.3 1170.0 646.8 1170.5 627.5 1171.0 610.5 1171.5 593.6 1172.0 601.5 1172.5 583.3 1173.0 624.4 1173.5 598.3 1174.0 576.8 1174.5 587.5 1175.0 579.9 1175.5 591.3 1176.0 601.5 1176.5 566.1 1177.0 574.0 1177.5 565.4 1178.0 589.3 1178.5 545.6 1179.0 587.9 1179.5 556.9 1180.0 579.9 1180.5 542.2 1181.0 558.9 1181.5 557.1 1182.0 538.6 1182.5 542.8 1183.0 546.4 1183.5 551.4 1184.0 544.9 1184.5 517.1 1185.0 533.2 1185.5 515.7 1186.0 510.3 1186.5 523.6 1187.0 539.1 1187.5 522.4 1188.0 506.5 1188.5 526.9 1189.0 529.3 1189.5 545.0 1190.0 539.6 1190.5 519.8 1191.0 524.0 1191.5 537.8 1192.0 562.7 1192.5 556.7 1193.0 568.3 1193.5 544.3 1194.0 562.4 1194.5 589.8 1195.0 569.2 1195.5 550.7 1196.0 598.1 1196.5 600.9 1197.0 603.5 1197.5 578.7 1198.0 627.5 1198.5 634.0 1199.0 646.0 1199.5 650.9 1200.0 624.6 1200.5 630.6 1201.0 610.6 1201.5 618.3 1202.0 639.8 1202.5 661.1 1203.0 642.3 1203.5 672.8 1204.0 613.8 1204.5 667.8 1205.0 640.7 1205.5 685.8 1206.0 697.5 1206.5 671.7 1207.0 646.9 1207.5 670.9 1208.0 669.1 1208.5 663.2 1209.0 679.8 1209.5 705.9 1210.0 720.6 1210.5 706.5 1211.0 717.6 1211.5 668.8 1212.0 725.3 1212.5 681.2 1213.0 685.1 1213.5 721.5 1214.0 676.8 1214.5 726.8 1215.0 735.8 1215.5 729.5 1216.0 755.3 1216.5 744.8 1217.0 692.8 1217.5 726.0 1218.0 716.8 1218.5 694.5 1219.0 748.6 1219.5 721.7 1220.0 704.9 1220.5 758.8 1221.0 709.0 1221.5 719.3 1222.0 758.8 1222.5 767.3 1223.0 731.4 1223.5 716.7 1224.0 714.1 1224.5 742.6 1225.0 723.8 1225.5 726.2 1226.0 768.9 1226.5 765.3 1227.0 754.1 1227.5 758.9 1228.0 761.5 1228.5 754.2 1229.0 754.8 1229.5 746.8 1230.0 760.6 1230.5 780.6 1231.0 788.8 1231.5 762.0 1232.0 763.2 1232.5 775.6 1233.0 765.3 1233.5 775.1 1234.0 755.1 1234.5 758.2 1235.0 757.7 1235.5 766.8 1236.0 784.0 1236.5 773.2 1237.0 749.1 1237.5 751.2 1238.0 751.9 1238.5 763.1 1239.0 774.5 1239.5 752.8 1240.0 778.2 1240.5 756.7 1241.0 764.3 1241.5 752.4 1242.0 762.1 1242.5 765.7 1243.0 749.4 1243.5 754.9 1244.0 757.7 1244.5 768.8 1245.0 763.6 1245.5 757.0 1246.0 769.7 1246.5 752.4 1247.0 749.3 1247.5 766.4 1248.0 760.0 1248.5 755.7 1249.0 758.0 1249.5 767.8 1250.0 761.0 1250.5 764.7 1251.0 753.3 1251.5 764.0 1252.0 778.6 1252.5 774.9 1253.0 759.7 1253.5 759.5 1254.0 779.2 1254.5 758.9 1255.0 767.4 1255.5 770.0 1256.0 784.8 1256.5 772.5 1257.0 792.6 1257.5 781.4 1258.0 780.8 1258.5 784.4 1259.0 788.0 1259.5 783.6 1260.0 768.5 1260.5 770.0 1261.0 780.0 1261.5 779.7 1262.0 764.6 1262.5 789.1 1263.0 785.0 1263.5 782.5 1264.0 791.7 1264.5 790.9 1265.0 774.2 1265.5 782.3 1266.0 783.4 1266.5 776.2 1267.0 783.0 1267.5 777.6 1268.0 801.6 1268.5 777.3 1269.0 790.3 1269.5 797.7 1270.0 801.8 1270.5 786.4 1271.0 780.7 1271.5 797.2 1272.0 796.8 1272.5 787.2 1273.0 805.1 1273.5 807.5 1274.0 783.4 1274.5 796.4 1275.0 795.0 1275.5 788.5 1276.0 790.3 1276.5 791.2 1277.0 787.7 1277.5 804.8 1278.0 805.8 1278.5 804.9 1279.0 796.4 1279.5 786.7 1280.0 814.0 1280.5 808.9 1281.0 789.3 1281.5 798.0 1282.0 791.0 1282.5 815.5 1283.0 816.3 1283.5 818.6 1284.0 812.7 1284.5 792.6 1285.0 800.2 1285.5 792.5 1286.0 818.6 1286.5 795.8 1287.0 793.7 1287.5 811.5 1288.0 798.1 1288.5 801.7 1289.0 817.5 1289.5 808.9 1290.0 803.6 1290.5 818.1 1291.0 800.1 1291.5 804.5 1292.0 820.1 1292.5 803.1 1293.0 820.8 1293.5 810.4 1294.0 809.3 1294.5 820.5 1295.0 818.6 1295.5 813.8 1296.0 807.6 1296.5 814.4 1297.0 802.4 1297.5 795.7 1298.0 805.8 1298.5 818.6 1299.0 807.9 1299.5 810.5 1300.0 799.8 1300.5 816.0 1301.0 814.2 1301.5 803.5 1302.0 807.1 1302.5 813.6 1303.0 798.7 1303.5 808.5 1304.0 819.1 1304.5 818.8 1305.0 812.4 1305.5 817.7 1306.0 807.1 1306.5 803.9 1307.0 808.2 1307.5 817.5 1308.0 812.2 1308.5 825.5 1309.0 808.2 1309.5 812.3 1310.0 824.9 1310.5 815.9 1311.0 825.4 1311.5 822.3 1312.0 821.0 1312.5 814.3 1313.0 827.8 1313.5 814.3 1314.0 822.7 1314.5 818.8 1315.0 806.6 1315.5 821.5 1316.0 820.4 1316.5 807.6 1317.0 817.7 1317.5 816.0 1318.0 811.3 1318.5 812.8 1319.0 823.0 1319.5 820.2 1320.0 824.6 1320.5 815.8 1321.0 823.6 1321.5 816.9 1322.0 826.4 1322.5 811.2 1323.0 827.5 1323.5 830.7 1324.0 827.6 1324.5 822.6 1325.0 817.6 1325.5 825.6 1326.0 825.5 1326.5 813.7 1327.0 823.2 1327.5 821.8 1328.0 818.9 1328.5 826.8 1329.0 809.4 1329.5 825.2 1330.0 827.0 1330.5 814.5 1331.0 822.6 1331.5 829.1 1332.0 830.5 1332.5 817.6 1333.0 825.9 1333.5 818.0 1334.0 812.6 1334.5 829.7 1335.0 811.6 1335.5 811.9 1336.0 813.6 1336.5 825.4 1337.0 827.7 1337.5 817.2 1338.0 818.0 1338.5 825.6 1339.0 815.0 1339.5 819.1 1340.0 820.0 1340.5 816.8 1341.0 812.9 1341.5 814.2 1342.0 822.6 1342.5 817.2 1343.0 823.4 1343.5 815.5 1344.0 818.7 1344.5 828.4 1345.0 823.7 1345.5 822.0 1346.0 824.1 1346.5 829.6 1347.0 811.8 1347.5 821.0 1348.0 818.1 1348.5 820.5 1349.0 824.9 1349.5 818.8 1350.0 816.4 1350.5 825.9 1351.0 816.0 1351.5 823.8 1352.0 811.3 1352.5 830.9 1353.0 826.0 1353.5 828.7 1354.0 828.7 1354.5 809.3 1355.0 815.0 1355.5 809.3 1356.0 817.2 1356.5 811.0 1357.0 813.4 1357.5 823.7 1358.0 814.5 1358.5 825.0 1359.0 819.2 1359.5 825.8 1360.0 830.7 1360.5 833.6 1361.0 823.8 1361.5 817.8 1362.0 817.6 1362.5 815.3 1363.0 817.1 1363.5 822.6 1364.0 832.5 1364.5 832.2 1365.0 819.6 1365.5 827.0 1366.0 813.2 1366.5 816.2 1367.0 827.5 1367.5 818.8 1368.0 829.5 1368.5 818.2 1369.0 822.1 1369.5 822.8 1370.0 816.3 1370.5 824.3 1371.0 827.3 1371.5 826.4 1372.0 812.7 1372.5 811.7 1373.0 814.3 1373.5 820.9 1374.0 811.8 1374.5 816.9 1375.0 822.2 1375.5 825.8 1376.0 809.3 1376.5 819.9 1377.0 822.9 1377.5 811.8 1378.0 821.8 1378.5 819.1 1379.0 816.0 1379.5 826.9 1380.0 810.9 1380.5 820.6 1381.0 805.9 1381.5 811.3 1382.0 809.6 1382.5 817.8 1383.0 813.1 1383.5 805.6 1384.0 811.8 1384.5 824.2 1385.0 806.2 1385.5 821.4 1386.0 814.4 1386.5 806.6 1387.0 803.7 1387.5 807.0 1388.0 813.4 1388.5 821.2 1389.0 824.1 1389.5 811.1 1390.0 815.9 1390.5 824.5 1391.0 814.6 1391.5 808.6 1392.0 812.3 1392.5 817.1 1393.0 818.2 1393.5 804.9 1394.0 809.8 1394.5 815.2 1395.0 814.2 1395.5 819.7 1396.0 826.6 1396.5 808.9 1397.0 815.4 1397.5 823.2 1398.0 812.3 1398.5 817.3 1399.0 830.6 1399.5 818.7 1400.0 830.2 1400.5 830.1 1401.0 831.2 1401.5 826.5 1402.0 829.9 1402.5 811.8 1403.0 826.9 1403.5 824.9 1404.0 818.0 1404.5 823.9 1405.0 822.2 1405.5 806.3 1406.0 818.9 1406.5 805.9 1407.0 812.9 1407.5 821.2 1408.0 819.6 1408.5 824.7 1409.0 821.8 1409.5 814.0 1410.0 807.9 1410.5 807.1 1411.0 822.9 1411.5 812.6 1412.0 815.1 1412.5 825.6 1413.0 817.0 1413.5 824.8 1414.0 817.6 1414.5 823.3 1415.0 820.7 1415.5 825.9 1416.0 815.3 1416.5 815.6 1417.0 812.3 1417.5 811.1 1418.0 811.3 1418.5 808.9 1419.0 806.4 1419.5 812.7 1420.0 809.3 1420.5 800.3 1421.0 812.2 1421.5 812.5 1422.0 814.4 1422.5 806.7 1423.0 809.7 1423.5 825.0 1424.0 806.5 1424.5 808.5 1425.0 818.7 1425.5 821.4 1426.0 825.5 1426.5 816.0 1427.0 820.5 1427.5 815.3 1428.0 816.2 1428.5 828.2 1429.0 818.5 1429.5 822.9 1430.0 808.8 1430.5 817.8 1431.0 827.5 1431.5 816.4 1432.0 821.6 1432.5 804.9 1433.0 806.9 1433.5 817.3 1434.0 804.1 1434.5 809.0 1435.0 823.2 1435.5 805.2 1436.0 811.5 1436.5 824.5 1437.0 817.2 1437.5 816.0 1438.0 814.0 1438.5 821.4 1439.0 814.5 1439.5 825.0 1440.0 824.8 1440.5 831.8 1441.0 815.2 1441.5 814.0 1442.0 829.7 1442.5 814.4 1443.0 821.0 1443.5 823.0 1444.0 821.1 1444.5 819.2 1445.0 809.2 1445.5 809.9 1446.0 813.9 1446.5 815.9 1447.0 820.2 1447.5 815.7 1448.0 825.9 1448.5 806.4 1449.0 819.1 1449.5 818.8 1450.0 820.4 1450.5 812.8 1451.0 815.7 1451.5 815.8 1452.0 811.7 1452.5 820.2 1453.0 805.8 1453.5 805.9 1454.0 820.8 1454.5 818.5 1455.0 802.0 1455.5 807.7 1456.0 804.1 1456.5 800.7 1457.0 810.9 1457.5 807.0 1458.0 816.2 1458.5 805.2 1459.0 815.3 1459.5 818.9 1460.0 817.5 1460.5 821.6 1461.0 822.7 1461.5 821.3 1462.0 802.3 1462.5 810.5 1463.0 808.2 1463.5 799.9 1464.0 812.6 1464.5 803.9 1465.0 814.7 1465.5 799.3 1466.0 797.6 1466.5 801.6 1467.0 810.5 1467.5 796.9 1468.0 798.5 1468.5 810.4 1469.0 791.2 1469.5 810.1 1470.0 801.7 1470.5 788.6 1471.0 796.7 1471.5 793.0 1472.0 798.5 1472.5 794.8 1473.0 802.1 1473.5 810.3 1474.0 793.3 1474.5 810.2 1475.0 795.9 1475.5 791.4 1476.0 800.0 1476.5 798.8 1477.0 798.7 1477.5 805.8 1478.0 811.0 1478.5 802.0 1479.0 809.0 1479.5 801.1 1480.0 806.4 1480.5 799.7 1481.0 798.8 1481.5 811.5 1482.0 798.7 1482.5 808.4 1483.0 791.8 1483.5 792.9 1484.0 786.2 1484.5 801.4 1485.0 786.5 1485.5 786.4 1486.0 788.7 1486.5 788.7 1487.0 796.3 1487.5 800.4 1488.0 787.8 1488.5 788.5 1489.0 791.6 1489.5 801.7 1490.0 806.9 1490.5 807.4 1491.0 809.2 1491.5 791.8 1492.0 804.6 1492.5 797.8 1493.0 796.2 1493.5 786.3 1494.0 794.4 1494.5 795.4 1495.0 801.5 1495.5 797.5 1496.0 804.7 1496.5 805.2 1497.0 785.2 1497.5 793.7 1498.0 798.7 1498.5 785.7 1499.0 790.3 1499.5 791.5 1500.0 791.4 1500.5 783.0 1501.0 800.2 1501.5 784.7 1502.0 797.7 1502.5 794.9 1503.0 797.3 1503.5 789.1 1504.0 788.9 1504.5 786.6 1505.0 798.1 1505.5 792.9 1506.0 796.5 1506.5 794.7 1507.0 796.8 1507.5 802.4 1508.0 809.1 1508.5 803.2 1509.0 792.4 1509.5 805.1 1510.0 802.7 1510.5 791.5 1511.0 791.5 1511.5 805.2 1512.0 793.8 1512.5 791.2 1513.0 789.4 1513.5 796.1 1514.0 804.8 1514.5 808.4 1515.0 794.5 1515.5 804.8 1516.0 790.7 1516.5 793.0 1517.0 799.3 1517.5 790.6 1518.0 801.2 1518.5 789.4 1519.0 799.4 1519.5 797.3 1520.0 800.3 1520.5 799.4 1521.0 797.4 1521.5 793.6 1522.0 790.0 1522.5 790.8 1523.0 794.8 1523.5 787.6 1524.0 792.2 1524.5 801.7 1525.0 791.0 1525.5 802.8 1526.0 797.7 1526.5 804.7 1527.0 802.4 1527.5 800.1 1528.0 793.5 1528.5 799.4 1529.0 792.2 1529.5 804.6 1530.0 810.5 1530.5 809.0 1531.0 803.5 1531.5 796.3 1532.0 809.7 1532.5 792.1 1533.0 797.0 1533.5 802.9 1534.0 807.9 1534.5 789.7 1535.0 797.4 1535.5 803.9 1536.0 811.1 1536.5 803.1 1537.0 798.9 1537.5 806.5 1538.0 796.3 1538.5 800.1 1539.0 806.8 1539.5 801.9 1540.0 794.1 1540.5 795.7 1541.0 805.4 1541.5 807.9 1542.0 800.4 1542.5 815.8 1543.0 803.1 1543.5 798.8 1544.0 810.8 1544.5 808.7 1545.0 810.3 1545.5 801.0 1546.0 807.6 1546.5 795.7 1547.0 804.9 1547.5 806.6 1548.0 795.8 1548.5 811.5 1549.0 814.3 1549.5 807.0 1550.0 809.1 1550.5 796.3 1551.0 802.2 1551.5 802.8 1552.0 808.4 1552.5 801.7 1553.0 800.1 1553.5 796.4 1554.0 808.3 1554.5 799.9 1555.0 806.3 1555.5 807.6 1556.0 814.3 1556.5 797.5 1557.0 814.5 1557.5 799.8 1558.0 804.7 1558.5 812.3 1559.0 806.3 1559.5 810.0 1560.0 810.6 1560.5 801.8 1561.0 811.0 1561.5 804.6 1562.0 800.2 1562.5 816.1 1563.0 811.6 1563.5 795.7 1564.0 793.7 1564.5 800.6 1565.0 800.9 1565.5 812.2 1566.0 797.6 1566.5 803.9 1567.0 801.2 1567.5 798.4 1568.0 789.1 1568.5 796.0 1569.0 788.5 1569.5 793.5 1570.0 804.3 1570.5 809.5 1571.0 799.9 1571.5 799.3 1572.0 812.2 1572.5 793.6 1573.0 809.6 1573.5 792.0 1574.0 800.6 1574.5 794.8 1575.0 809.9 1575.5 796.5 1576.0 806.0 1576.5 805.5 1577.0 810.4 1577.5 796.5 1578.0 807.1 1578.5 810.9 1579.0 798.2 1579.5 796.5 1580.0 803.7 1580.5 809.8 1581.0 800.8 1581.5 810.3 1582.0 801.8 1582.5 800.1 1583.0 798.0 1583.5 787.9 1584.0 791.2 1584.5 795.5 1585.0 798.7 1585.5 799.5 1586.0 794.1 1586.5 793.5 1587.0 807.9 1587.5 808.8 1588.0 800.3 1588.5 806.7 1589.0 793.6 1589.5 802.3 1590.0 792.7 1590.5 797.5 1591.0 803.3 1591.5 803.0 1592.0 787.5 1592.5 802.0 1593.0 805.8 1593.5 794.8 1594.0 784.8 1594.5 783.5 1595.0 796.7 1595.5 788.6 1596.0 788.1 1596.5 782.8 1597.0 783.4 1597.5 792.8 1598.0 773.6 1598.5 782.4 1599.0 791.2 1599.5 781.0 1600.0 786.8 1600.5 788.1 1601.0 776.1 1601.5 793.6 1602.0 782.2 1602.5 797.5 1603.0 785.7 1603.5 800.2 1604.0 796.0 1604.5 785.2 1605.0 784.1 1605.5 792.8 1606.0 786.7 1606.5 770.3 1607.0 796.0 1607.5 794.8 1608.0 776.8 1608.5 792.7 1609.0 785.8 1609.5 774.4 1610.0 766.7 1610.5 790.3 1611.0 767.8 1611.5 777.8 1612.0 772.4 1612.5 768.5 1613.0 789.3 1613.5 788.4 1614.0 763.9 1614.5 788.4 1615.0 783.1 1615.5 783.0 1616.0 783.2 1616.5 773.8 1617.0 786.0 1617.5 782.5 1618.0 766.6 1618.5 782.1 1619.0 778.6 1619.5 769.3 1620.0 780.5 1620.5 763.5 1621.0 769.9 1621.5 781.3 1622.0 775.1 1622.5 773.5 1623.0 767.7 1623.5 771.9 1624.0 779.7 1624.5 770.8 1625.0 770.3 1625.5 755.4 1626.0 753.5 1626.5 774.8 1627.0 767.5 1627.5 753.5 1628.0 769.3 1628.5 778.7 1629.0 752.9 1629.5 778.5 1630.0 770.7 1630.5 759.6 1631.0 753.8 1631.5 769.2 1632.0 771.7 1632.5 763.9 1633.0 753.1 1633.5 751.1 1634.0 769.5 1634.5 766.7 1635.0 751.4 1635.5 759.8 1636.0 749.3 1636.5 754.9 1637.0 749.6 1637.5 741.8 1638.0 770.8 1638.5 749.8 1639.0 757.3 1639.5 762.2 1640.0 751.0 1640.5 756.3 1641.0 743.9 1641.5 749.1 1642.0 764.9 1642.5 753.0 1643.0 752.0 1643.5 770.6 1644.0 765.9 1644.5 773.4 1645.0 749.5 1645.5 749.3 1646.0 761.8 1646.5 761.3 1647.0 770.6 1647.5 755.8 1648.0 771.8 1648.5 754.0 1649.0 754.8 1649.5 765.9 1650.0 752.7 1650.5 749.5 1651.0 762.4 1651.5 759.1 1652.0 747.3 1652.5 768.6 1653.0 749.7 1653.5 764.7 1654.0 755.6 1654.5 761.0 1655.0 751.1 1655.5 768.7 1656.0 751.5 1656.5 765.5 1657.0 744.6 1657.5 767.2 1658.0 768.7 1658.5 758.7 1659.0 770.4 1659.5 753.1 1660.0 749.9 1660.5 760.1 1661.0 749.5 1661.5 762.4 1662.0 751.7 1662.5 752.7 1663.0 771.9 1663.5 755.5 1664.0 770.7 1664.5 755.6 1665.0 748.3 1665.5 758.8 1666.0 764.7 1666.5 747.9 1667.0 749.5 1667.5 745.5 1668.0 747.5 1668.5 762.5 1669.0 747.8 1669.5 766.4 1670.0 743.9 1670.5 757.8 1671.0 746.9 1671.5 754.8 1672.0 744.8 1672.5 766.7 1673.0 759.9 1673.5 761.6 1674.0 749.3 1674.5 749.3 1675.0 767.4 1675.5 744.5 1676.0 765.2 1676.5 754.9 1677.0 769.2 1677.5 742.0 1678.0 761.3 1678.5 751.0 1679.0 749.2 1679.5 748.7 1680.0 763.8 1680.5 752.1 1681.0 762.6 1681.5 767.3 1682.0 755.9 1682.5 760.0 1683.0 748.7 1683.5 774.6 1684.0 772.2 1684.5 756.1 1685.0 776.3 1685.5 771.6 1686.0 765.0 1686.5 754.7 1687.0 755.9 1687.5 758.2 1688.0 766.2 1688.5 757.6 1689.0 756.1 1689.5 760.8 1690.0 775.8 1690.5 752.8 1691.0 760.0 1691.5 761.7 1692.0 761.1 1692.5 761.5 1693.0 774.1 1693.5 767.0 1694.0 772.7 1694.5 753.5 1695.0 775.5 1695.5 781.7 1696.0 774.2 1696.5 763.7 1697.0 775.3 1697.5 767.4 1698.0 779.7 1698.5 784.3 1699.0 771.7 1699.5 773.9 1700.0 761.7 1700.5 774.6 1701.0 788.1 1701.5 777.7 1702.0 764.8 1702.5 784.7 1703.0 765.0 1703.5 788.6 1704.0 773.8 1704.5 788.8 1705.0 782.8 1705.5 768.4 1706.0 768.7 1706.5 771.4 1707.0 775.3 1707.5 791.1 1708.0 773.7 1708.5 782.4 1709.0 786.6 1709.5 785.0 1710.0 793.8 1710.5 794.1 1711.0 791.1 1711.5 779.2 1712.0 784.4 1712.5 784.6 1713.0 775.0 1713.5 801.6 1714.0 795.8 1714.5 789.8 1715.0 782.8 1715.5 800.4 1716.0 793.1 1716.5 786.4 1717.0 792.8 1717.5 794.9 1718.0 786.7 1718.5 787.5 1719.0 796.2 1719.5 795.2 1720.0 788.4 1720.5 800.9 1721.0 813.9 1721.5 803.3 1722.0 805.5 1722.5 805.3 1723.0 803.2 1723.5 817.5 1724.0 808.6 1724.5 804.2 1725.0 818.6 1725.5 818.0 1726.0 796.3 1726.5 800.6 1727.0 798.9 1727.5 817.9 1728.0 819.7 1728.5 799.4 1729.0 800.2 1729.5 798.3 1730.0 813.7 1730.5 806.3 1731.0 799.7 1731.5 813.1 1732.0 807.2 1732.5 805.5 1733.0 804.0 1733.5 798.5 1734.0 819.9 1734.5 823.3 1735.0 808.3 1735.5 805.0 1736.0 817.1 1736.5 812.4 1737.0 816.0 1737.5 799.4 1738.0 816.7 1738.5 821.3 1739.0 812.6 1739.5 815.5 1740.0 807.0 1740.5 814.3 1741.0 807.6 1741.5 805.2 1742.0 808.1 1742.5 810.1 1743.0 809.5 1743.5 802.1 1744.0 814.3 1744.5 805.9 1745.0 821.0 1745.5 806.5 1746.0 800.6 1746.5 796.5 1747.0 796.8 1747.5 801.3 1748.0 797.3 1748.5 790.7 1749.0 806.8 1749.5 791.5 1750.0 807.1 1750.5 803.0 1751.0 801.4 1751.5 809.9 1752.0 805.0 1752.5 812.0 1753.0 810.5 1753.5 804.4 1754.0 804.0 1754.5 800.6 1755.0 819.8 1755.5 811.0 1756.0 808.7 1756.5 799.3 1757.0 799.7 1757.5 812.3 1758.0 815.8 1758.5 814.5 1759.0 817.4 1759.5 807.1 1760.0 814.9 1760.5 800.2 1761.0 810.4 1761.5 822.2 1762.0 805.4 1762.5 814.7 1763.0 800.0 1763.5 809.2 1764.0 810.3 1764.5 810.7 1765.0 819.5 1765.5 803.2 1766.0 805.2 1766.5 818.2 1767.0 796.9 1767.5 816.6 1768.0 809.7 1768.5 807.6 1769.0 800.9 1769.5 807.9 1770.0 806.4 1770.5 799.8 1771.0 818.1 1771.5 802.7 1772.0 803.1 1772.5 812.0 1773.0 811.7 1773.5 801.6 1774.0 818.7 1774.5 799.2 1775.0 795.9 1775.5 799.8 1776.0 796.3 1776.5 802.3 1777.0 816.0 1777.5 813.2 1778.0 818.7 1778.5 804.8 1779.0 812.7 1779.5 823.8 1780.0 823.6 1780.5 813.8 1781.0 811.9 1781.5 808.2 1782.0 822.4 1782.5 815.9 1783.0 811.6 1783.5 821.4 1784.0 803.6 1784.5 824.9 1785.0 800.5 1785.5 802.2 1786.0 806.5 1786.5 806.9 1787.0 809.1 1787.5 818.8 1788.0 809.8 1788.5 805.6 1789.0 821.7 1789.5 801.6 1790.0 803.8 1790.5 815.8 1791.0 820.9 1791.5 800.3 1792.0 807.0 1792.5 797.8 1793.0 802.7 1793.5 817.5 1794.0 802.9 1794.5 811.9 1795.0 814.7 1795.5 809.8 1796.0 810.7 1796.5 798.2 1797.0 798.6 1797.5 801.3 1798.0 816.2 1798.5 804.4 1799.0 807.7 1799.5 801.2 1800.0 807.6 1800.5 811.6 1801.0 813.7 1801.5 809.6 1802.0 798.0 1802.5 796.7 1803.0 798.1 1803.5 797.9 1804.0 811.1 1804.5 810.4 1805.0 820.9 1805.5 806.9 1806.0 798.3 1806.5 816.1 1807.0 808.3 1807.5 818.1 1808.0 795.5" fill="none" stroke="#050505" stroke-width="3.6" stroke-linejoin="round" stroke-linecap="round" filter="url(#soft)"/></g>
<g clip-path="url(#plot)" filter="url(#soft)"><path d="M564.8 246L562.3 260L559.8 285L556.8 308L553.5 334L557.5 337L562 348L566 348L569.5 338L574.6 334L573.3 308L570.5 285L567.8 260Z" fill="#050505"/><path d="M561 338h6v20h-6z" fill="#888"/><path d="M639.5 664h11.5v38h-11.5z" fill="#777"/><path d="M986.5 327h5v26h-5z" fill="#777"/><path d="M987.3 349L986.3 404L984.2 410L983.6 463L995 463L994.8 410L992.6 404L992 352L990.3 346Z" fill="#111"/><path d="M996 543h4.5v26h-4.5z" fill="#222"/><rect x="1805" y="256" width="3" height="5.6" fill="#aaa"/><path d="M1186.6 497L1184 520L1181 549L1178 577L1183 580L1186 592L1189 582L1196 577L1193 549L1190 520Z" fill="#080808"/></g>
<g filter="url(#soft)" clip-path="url(#plot)"><rect x="598.5" y="574.7" width="8" height="4.6" fill="#ee2c3c"/><rect x="598.5" y="585.7" width="8" height="4.6" fill="#f7909c"/><rect x="598.5" y="597.7" width="8" height="4.6" fill="#ee2c3c"/><rect x="565.0" y="617.7" width="8" height="4.6" fill="#ee2c3c"/><rect x="565.0" y="627.7" width="8" height="4.6" fill="#f7909c"/><rect x="577.0" y="620.7" width="8" height="4.6" fill="#ee2c3c"/><rect x="606.0" y="628.7" width="8" height="4.6" fill="#ee2c3c"/><rect x="606.0" y="635.7" width="8" height="4.6" fill="#f7909c"/><rect x="606.0" y="657.7" width="8" height="4.6" fill="#ee2c3c"/><rect x="623.7" y="681.7" width="8" height="4.6" fill="#ee2c3c"/><rect x="656.0" y="749.7" width="8" height="4.6" fill="#ee2c3c"/><rect x="656.0" y="757.7" width="8" height="4.6" fill="#f7909c"/><rect x="656.0" y="765.7" width="8" height="4.6" fill="#ee2c3c"/><rect x="691.0" y="748.7" width="8" height="4.6" fill="#ee2c3c"/><rect x="691.0" y="759.7" width="8" height="4.6" fill="#f7909c"/><rect x="729.0" y="764.7" width="8" height="4.6" fill="#ee2c3c"/><rect x="729.0" y="773.7" width="8" height="4.6" fill="#f7909c"/><rect x="776.0" y="768.7" width="8" height="4.6" fill="#ee2c3c"/><rect x="776.0" y="778.7" width="8" height="4.6" fill="#f7909c"/><rect x="824.0" y="768.7" width="8" height="4.6" fill="#ee2c3c"/><rect x="824.0" y="780.7" width="8" height="4.6" fill="#f7909c"/><rect x="877.0" y="753.7" width="8" height="4.6" fill="#ee2c3c"/><rect x="877.0" y="762.7" width="8" height="4.6" fill="#f7909c"/><rect x="877.0" y="782.7" width="8" height="4.6" fill="#ee2c3c"/><rect x="933.0" y="752.7" width="8" height="4.6" fill="#ee2c3c"/><rect x="933.0" y="762.7" width="8" height="4.6" fill="#f7909c"/><rect x="991.0" y="751.7" width="8" height="4.6" fill="#ee2c3c"/><rect x="991.0" y="761.7" width="8" height="4.6" fill="#f7909c"/><rect x="991.0" y="781.7" width="8" height="4.6" fill="#ee2c3c"/><rect x="1050.0" y="713.7" width="8" height="4.6" fill="#ee2c3c"/><rect x="1050.0" y="723.7" width="8" height="4.6" fill="#f7909c"/><rect x="1048.0" y="746.7" width="8" height="4.6" fill="#ee2c3c"/><rect x="1070.0" y="741.7" width="8" height="4.6" fill="#ee2c3c"/><rect x="1112.5" y="734.7" width="8" height="4.6" fill="#ee2c3c"/><rect x="1112.5" y="743.7" width="8" height="4.6" fill="#f7909c"/><rect x="1174.6" y="761.7" width="8" height="4.6" fill="#ee2c3c"/><rect x="1174.6" y="771.7" width="8" height="4.6" fill="#f7909c"/><rect x="1281.0" y="770.7" width="8" height="4.6" fill="#ee2c3c"/><rect x="1281.0" y="785.7" width="8" height="4.6" fill="#f7909c"/><rect x="1310.0" y="763.7" width="8" height="4.6" fill="#ee2c3c"/><rect x="1310.0" y="773.7" width="8" height="4.6" fill="#f7909c"/><rect x="1310.0" y="794.7" width="8" height="4.6" fill="#ee2c3c"/><rect x="1335.0" y="786.7" width="8" height="4.6" fill="#ee2c3c"/><rect x="1335.0" y="797.7" width="8" height="4.6" fill="#f7909c"/><rect x="1355.0" y="769.7" width="8" height="4.6" fill="#ee2c3c"/><rect x="1355.0" y="779.7" width="8" height="4.6" fill="#f7909c"/><rect x="1355.0" y="799.7" width="8" height="4.6" fill="#ee2c3c"/><rect x="1382.0" y="769.7" width="8" height="4.6" fill="#ee2c3c"/><rect x="1382.0" y="779.7" width="8" height="4.6" fill="#f7909c"/><rect x="1425.0" y="788.7" width="8" height="4.6" fill="#ee2c3c"/><rect x="1451.0" y="769.7" width="8" height="4.6" fill="#ee2c3c"/><rect x="1451.0" y="779.7" width="8" height="4.6" fill="#f7909c"/><rect x="1501.0" y="769.7" width="8" height="4.6" fill="#ee2c3c"/><rect x="1501.0" y="779.7" width="8" height="4.6" fill="#f7909c"/><rect x="1526.0" y="769.7" width="8" height="4.6" fill="#ee2c3c"/><rect x="1526.0" y="779.7" width="8" height="4.6" fill="#f7909c"/><rect x="1542.0" y="769.7" width="8" height="4.6" fill="#ee2c3c"/><rect x="1542.0" y="779.7" width="8" height="4.6" fill="#f7909c"/><rect x="1589.0" y="761.7" width="8" height="4.6" fill="#ee2c3c"/><rect x="1589.0" y="773.7" width="8" height="4.6" fill="#f7909c"/><rect x="1639.0" y="796.7" width="8" height="4.6" fill="#ee2c3c"/><rect x="1639.0" y="804.7" width="8" height="4.6" fill="#f7909c"/><rect x="1680.0" y="797.7" width="8" height="4.6" fill="#ee2c3c"/><rect x="1680.0" y="806.7" width="8" height="4.6" fill="#f7909c"/><rect x="1748.0" y="761.7" width="8" height="4.6" fill="#ee2c3c"/><rect x="1748.0" y="769.7" width="8" height="4.6" fill="#f7909c"/><rect x="1764.6" y="775.7" width="8" height="4.6" fill="#ee2c3c"/><rect x="1764.6" y="785.7" width="8" height="4.6" fill="#f7909c"/><rect x="1795.0" y="775.7" width="8" height="4.6" fill="#ee2c3c"/><rect x="557.5" y="393.0" width="9" height="4" fill="#6a6ad8"/><rect x="557.5" y="412.0" width="9" height="4" fill="#6a6ad8"/><rect x="557.5" y="422.0" width="9" height="4" fill="#6a6ad8"/><rect x="987.0" y="564.0" width="9" height="4" fill="#6a6ad8"/><rect x="987.0" y="574.0" width="9" height="4" fill="#6a6ad8"/><rect x="987.0" y="584.0" width="9" height="4" fill="#6a6ad8"/><rect x="662.5" y="694.0" width="9" height="4" fill="#6a6ad8"/><rect x="662.5" y="705.0" width="9" height="4" fill="#6a6ad8"/><rect x="1478.5" y="780.0" width="9" height="4" fill="#6a6ad8"/></g>
<g filter="url(#soft)"><rect x="464.3" y="840" width="4.7" height="13" fill="#58b04c"/><rect x="493.2" y="840" width="7.2" height="13" fill="#8a8ade"/><rect x="501.6" y="840" width="6.2" height="13" fill="#ea2a36"/><rect x="507.4" y="840" width="4.2" height="13" fill="#f58a98"/><rect x="511.2" y="840" width="4.7" height="13" fill="#58b04c"/><rect x="515.2" y="840" width="5.2" height="13" fill="#f58a98"/><rect x="534.4" y="840" width="6.2" height="13" fill="#f58a98"/><rect x="542.6" y="840" width="4.7" height="13" fill="#f58a98"/><rect x="559.1" y="840" width="6.2" height="13" fill="#f58a98"/><rect x="590.5" y="840" width="6.2" height="13" fill="#f58a98"/><rect x="598.6" y="840" width="4.7" height="13" fill="#8a8ade"/><rect x="627.4" y="840" width="5.2" height="13" fill="#f58a98"/><rect x="666.1" y="840" width="5.7" height="13" fill="#f58a98"/><rect x="712.9" y="840" width="5.7" height="13" fill="#f58a98"/><rect x="762.7" y="840" width="4.2" height="13" fill="#a83a22"/><rect x="765.2" y="840" width="4.2" height="13" fill="#58b04c"/><rect x="812.4" y="840" width="5.7" height="13" fill="#f58a98"/><rect x="869.0" y="840" width="5.2" height="13" fill="#f58a98"/><rect x="923.4" y="840" width="5.2" height="13" fill="#8a8ade"/><rect x="928.5" y="840" width="4.7" height="13" fill="#ea2a36"/><rect x="937.4" y="840" width="5.2" height="13" fill="#7cc472"/><rect x="986.0" y="840" width="5.7" height="13" fill="#f58a98"/><rect x="1005.1" y="840" width="5.7" height="13" fill="#f58a98"/><rect x="1047.2" y="840" width="5.7" height="13" fill="#f58a98"/><rect x="1113.7" y="840" width="4.7" height="13" fill="#f58a98"/><rect x="1117.7" y="840" width="4.2" height="13" fill="#7cc472"/><rect x="1121.7" y="840" width="4.7" height="13" fill="#8a8ade"/><rect x="1142.4" y="840" width="5.2" height="13" fill="#7cc472"/><rect x="1178.9" y="840" width="5.2" height="13" fill="#f58a98"/><rect x="1183.8" y="840" width="5.2" height="13" fill="#8a8ade"/><rect x="1198.4" y="840" width="8.2" height="13" fill="#ea2a36"/><rect x="1208.0" y="840" width="5.2" height="13" fill="#f58a98"/><rect x="1218.4" y="840" width="7.2" height="13" fill="#a83a22"/><rect x="1232.9" y="840" width="4.2" height="13" fill="#f58a98"/><rect x="1246.5" y="840" width="8.2" height="13" fill="#ea2a36"/><rect x="1270.9" y="840" width="6.2" height="13" fill="#f58a98"/><rect x="1290.9" y="840" width="6.2" height="13" fill="#f58a98"/><rect x="1298.7" y="840" width="4.7" height="13" fill="#f58a98"/><rect x="1305.8" y="840" width="5.7" height="13" fill="#7cc472"/><rect x="1319.7" y="840" width="4.7" height="13" fill="#f58a98"/><rect x="1328.2" y="840" width="5.7" height="13" fill="#f58a98"/><rect x="1361.9" y="840" width="6.2" height="13" fill="#f58a98"/><rect x="1376.7" y="840" width="4.7" height="13" fill="#58b04c"/><rect x="1387.9" y="840" width="6.2" height="13" fill="#f58a98"/><rect x="1399.2" y="840" width="4.7" height="13" fill="#f58a98"/><rect x="1415.4" y="840" width="5.2" height="13" fill="#8a8ade"/><rect x="1437.2" y="840" width="5.7" height="13" fill="#f58a98"/><rect x="1461.8" y="840" width="5.2" height="13" fill="#f58a98"/><rect x="1478.2" y="840" width="6.7" height="13" fill="#f58a98"/><rect x="1525.6" y="840" width="5.7" height="13" fill="#f58a98"/><rect x="1537.4" y="840" width="5.2" height="13" fill="#f58a98"/><rect x="1573.7" y="840" width="4.7" height="13" fill="#7a3aa8"/><rect x="1577.4" y="840" width="4.2" height="13" fill="#ea2a36"/><rect x="1581.4" y="840" width="5.2" height="13" fill="#7cc472"/><rect x="1616.2" y="840" width="4.7" height="13" fill="#f58a98"/><rect x="1627.7" y="840" width="4.7" height="13" fill="#8a8ade"/><rect x="1669.4" y="840" width="5.2" height="13" fill="#7cc472"/><rect x="1684.7" y="840" width="4.7" height="13" fill="#f58a98"/><rect x="1695.9" y="840" width="6.2" height="13" fill="#f58a98"/><rect x="1702.4" y="840" width="9.2" height="13" fill="#ea2a36"/><rect x="1716.4" y="840" width="4.2" height="13" fill="#f58a98"/><rect x="1727.4" y="840" width="5.2" height="13" fill="#ea2a36"/><rect x="1740.9" y="840" width="7.7" height="13" fill="#a83a22"/><rect x="1761.2" y="840" width="5.7" height="13" fill="#f58a98"/><rect x="1778.4" y="840" width="5.2" height="13" fill="#f58a98"/><rect x="1786.8" y="840" width="5.7" height="13" fill="#f58a98"/><rect x="1804.2" y="840" width="3.7" height="13" fill="#cfe8cc"/></g>
<g stroke="#000" stroke-width="2" fill="none">
<path d="M157.9 20V858.8H1810.9V845"/>
<path d="M157.9 206.2H172"/>
<path d="M157.9 338.2H172"/>
<path d="M157.9 469.2H172"/>
<path d="M157.9 601.2H172"/>
<path d="M157.9 732.6H172"/>
<path d="M157.9 839.6H172"/>
<path d="M338 858.8V845"/>
<path d="M584 858.8V845"/>
<path d="M829 858.8V845"/>
<path d="M1074 858.8V845"/>
<path d="M1319 858.8V845"/>
<path d="M1565 858.8V845"/>
</g>
<g font-family="'Liberation Serif', serif" fill="#000" stroke="#000" stroke-width="0.35">
<text transform="translate(65.60 220.70) scale(0.9050 1)" font-size="45" dx="0.00 0.00 0.00 0.00">1000</text>
<text transform="translate(85.15 352.70) scale(0.9050 1)" font-size="45">800</text>
<text transform="translate(85.15 483.70) scale(0.9050 1)" font-size="45">600</text>
<text transform="translate(85.65 615.70) scale(0.9050 1)" font-size="45">400</text>
<text transform="translate(85.15 746.70) scale(0.9050 1)" font-size="45">200</text>
<text transform="translate(126.40 854.70) scale(0.9050 1)" font-size="45">0</text>
<text transform="translate(135.80 908.30) scale(0.9050 1)" font-size="45" dx="0.00 -1.86">10</text>
<text transform="translate(317.70 908.30) scale(0.9050 1)" font-size="45">20</text>
<text transform="translate(563.20 908.30) scale(0.9050 1)" font-size="45">30</text>
<text transform="translate(809.05 908.30) scale(0.9050 1)" font-size="45">40</text>
<text transform="translate(1054.05 908.30) scale(0.9050 1)" font-size="45">50</text>
<text transform="translate(1299.85 908.30) scale(0.9050 1)" font-size="45">60</text>
<text transform="translate(1544.15 908.30) scale(0.9050 1)" font-size="45">70</text>
<text transform="translate(1790.50 908.30) scale(0.9050 1)" font-size="45">80</text>
<text transform="translate(879.55 943.40) scale(0.9669 1)" font-size="45">2θ, град</text>
<text transform="translate(62.50 564.10) rotate(-90) scale(1.0518 1)" font-size="45"><tspan font-style="italic">I</tspan>, отн. ед.</text>
<text transform="translate(535.30 410.80) rotate(-90) scale(0.8650 1)" font-size="45" dx="0.00 -1.29 0.00">100</text>
<text transform="translate(535.30 339.60) rotate(-90) scale(0.9501 1)" font-size="45">гекс.</text>
<text transform="translate(556.00 233.50) rotate(-90) scale(0.9050 1)" font-size="45">002</text>
<text transform="translate(556.00 159.20) rotate(-90) scale(0.9501 1)" font-size="45">гекс.</text>
<text transform="translate(601.50 234.50) rotate(-90) scale(0.8650 1)" font-size="45" dx="0.00 -4.42 -4.42">111</text>
<text transform="translate(601.50 174.25) rotate(-90) scale(0.9970 1)" font-size="45">куб.</text>
<text transform="translate(662.00 622.55) rotate(-90) scale(0.8650 1)" font-size="45" dx="0.00 -2.30 -2.30">101</text>
<text transform="translate(662.00 552.25) rotate(-90) scale(0.9560 1)" font-size="45">гекс.</text>
<text transform="translate(980.80 298.75) rotate(-90) scale(0.9050 1)" font-size="45">220</text>
<text transform="translate(980.80 225.75) rotate(-90) scale(0.9703 1)" font-size="45">куб.</text>
<text transform="translate(1023.10 296.05) rotate(-90) scale(0.8650 1)" font-size="45" dx="0.00 -3.04 -1.52">110</text>
<text transform="translate(1023.10 231.10) rotate(-90) scale(0.9617 1)" font-size="45">гекс.</text>
<text transform="translate(1127.00 725.00) rotate(-90) scale(0.8650 1)" font-size="45" dx="0.00 -1.06 0.00">103</text>
<text transform="translate(1184.30 484.45) rotate(-90) scale(0.8650 1)" font-size="45" dx="0.00 -3.04 -1.52">112</text>
<text transform="translate(1184.30 417.30) rotate(-90) scale(0.9617 1)" font-size="45">гекс.</text>
<text transform="translate(1224.40 487.20) rotate(-90) scale(0.8650 1)" font-size="45" dx="0.00 -2.30 -4.60">311</text>
<text transform="translate(1224.40 420.10) rotate(-90) scale(0.9637 1)" font-size="45">куб.</text>
</g>
</svg></body></html>
